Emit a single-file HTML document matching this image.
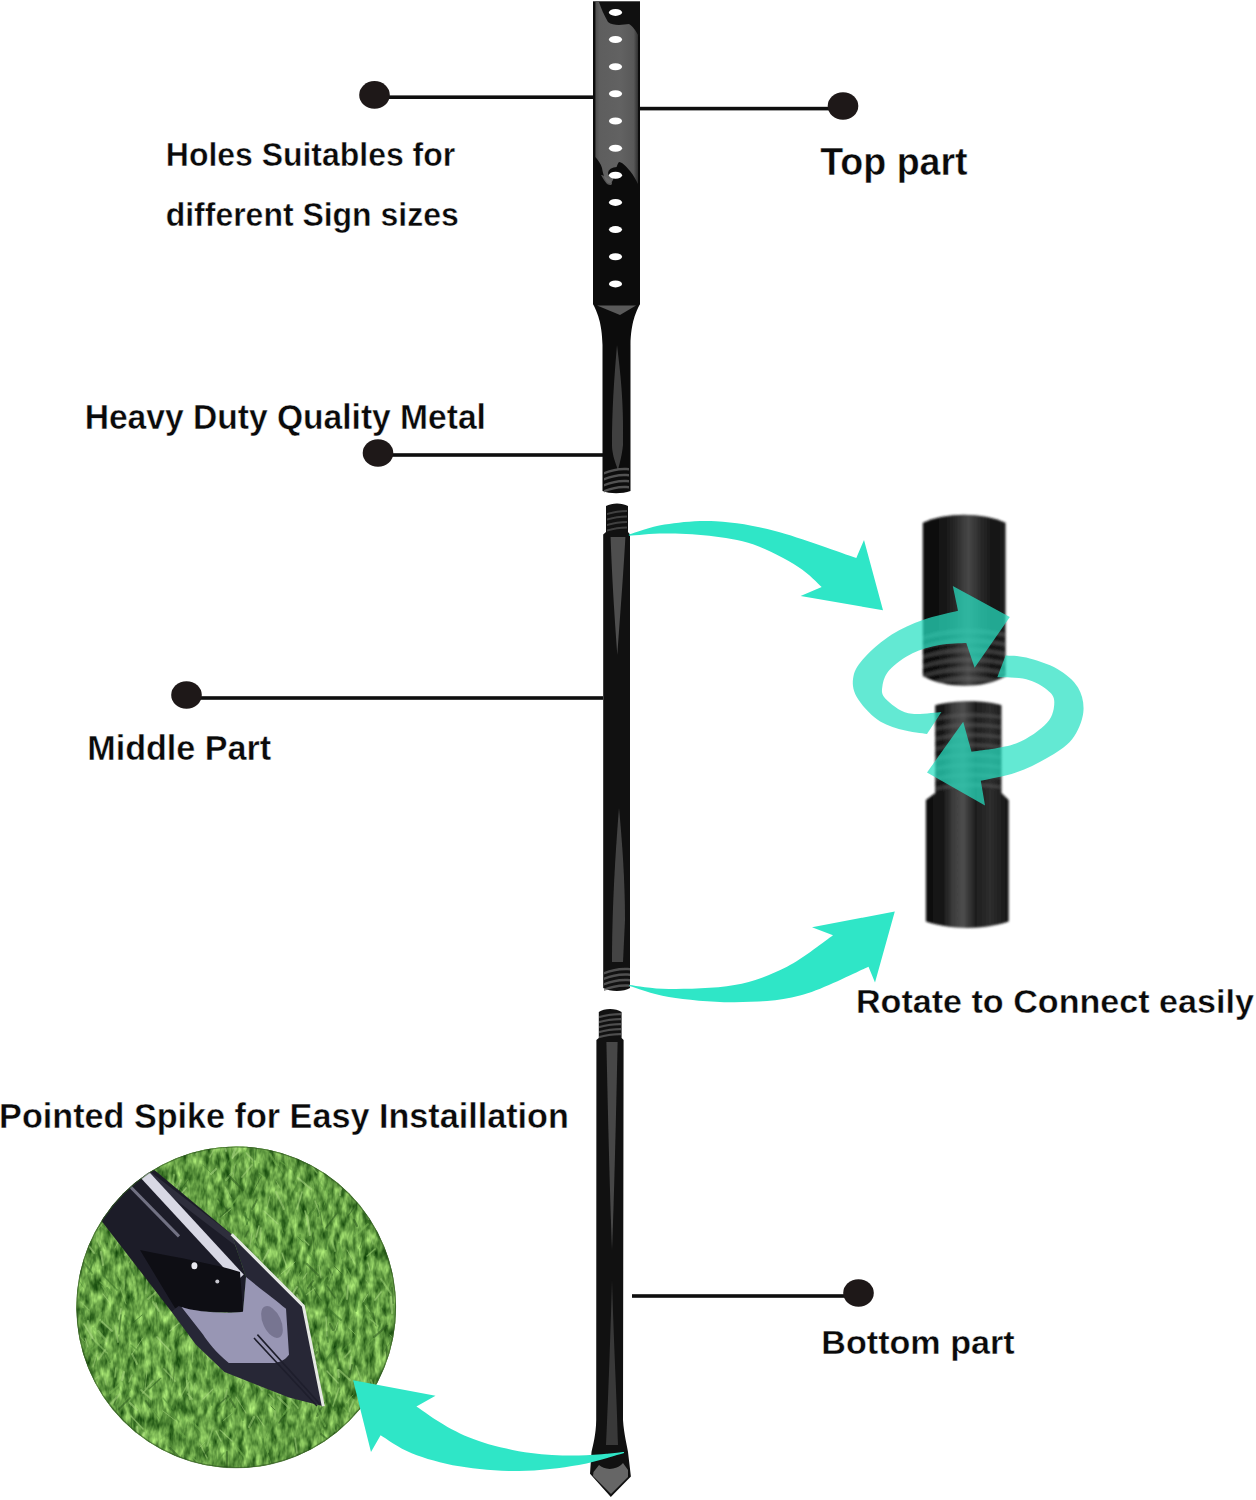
<!DOCTYPE html><html><head><meta charset="utf-8"><style>html,body{margin:0;padding:0;background:#fff;width:1256px;height:1500px;overflow:hidden}svg{display:block}</style></head><body><svg width="1256" height="1500" viewBox="0 0 1256 1500"><defs>
<linearGradient id="shaft" x1="0" x2="1" y1="0" y2="0">
<stop offset="0" stop-color="#0a0a0a"/><stop offset="0.35" stop-color="#141414"/>
<stop offset="0.55" stop-color="#3a3a3a"/><stop offset="0.7" stop-color="#1a1a1a"/><stop offset="1" stop-color="#050505"/>
</linearGradient>
<linearGradient id="plate" x1="0" x2="1">
<stop offset="0" stop-color="#4e4e4e"/><stop offset="0.1" stop-color="#5e5e5e"/><stop offset="0.6" stop-color="#626262"/><stop offset="0.9" stop-color="#585858"/><stop offset="1" stop-color="#303030"/>
</linearGradient>
<linearGradient id="cyl" x1="0" x2="1"><stop offset="0" stop-color="#0c0c0c"/><stop offset="0.25" stop-color="#131313"/><stop offset="0.4" stop-color="#2a2a2a"/><stop offset="0.55" stop-color="#484848"/><stop offset="0.7" stop-color="#2a2a2a"/><stop offset="0.85" stop-color="#141414"/><stop offset="1" stop-color="#1e1e1e"/></linearGradient>
<linearGradient id="cyl2" x1="0" x2="1"><stop offset="0" stop-color="#0e0e0e"/><stop offset="0.2" stop-color="#161616"/><stop offset="0.32" stop-color="#3a3a3a"/><stop offset="0.45" stop-color="#4e4e4e"/><stop offset="0.6" stop-color="#1e1e1e"/><stop offset="0.78" stop-color="#2e2e2e"/><stop offset="1" stop-color="#151515"/></linearGradient>
<filter id="blur05" x="-20%" y="-20%" width="140%" height="140%"><feGaussianBlur stdDeviation="0.6"/></filter>
<filter id="blur1" x="-10%" y="-10%" width="120%" height="120%"><feGaussianBlur stdDeviation="1.3"/></filter>
<filter id="grass" x="0" y="0" width="1" height="1" filterUnits="objectBoundingBox" color-interpolation-filters="sRGB"><feTurbulence type="fractalNoise" baseFrequency="0.16 0.065" numOctaves="3" seed="11"/><feColorMatrix type="matrix" values="0.85 0 0 0 -0.04  0.9 0 0 0 0.16  0.6 0 0 0 -0.04  0 0 0 0 1"/></filter>
<clipPath id="cc"><ellipse cx="236.2" cy="1307.3" rx="159.8" ry="160.8"/></clipPath>
</defs><rect width="1256" height="1500" fill="#fff"/><g font-family="Liberation Sans" font-weight="bold" fill="#0a0a0a"><text transform="translate(165.86,166.30) scale(0.31953,0.33870)" font-size="100" stroke="#fff" stroke-width="1.25">Holes Suitables for</text><text transform="translate(165.72,225.80) scale(0.31971,0.32931)" font-size="100" stroke="#fff" stroke-width="1.25">different Sign sizes</text><text transform="translate(820.22,174.50) scale(0.37558,0.39060)" font-size="100" stroke="#fff" stroke-width="1.07">Top part</text><text transform="translate(84.65,428.70) scale(0.33610,0.34955)" font-size="100" stroke="#fff" stroke-width="1.19">Heavy Duty Quality Metal</text><text transform="translate(87.21,760.30) scale(0.34151,0.35858)" font-size="100" stroke="#fff" stroke-width="1.17">Middle Part</text><text transform="translate(855.91,1013.10) scale(0.34119,0.34119)" font-size="100" stroke="#fff" stroke-width="1.17">Rotate to Connect easily</text><text transform="translate(-0.89,1128.10) scale(0.34180,0.35206)" font-size="100" stroke="#fff" stroke-width="1.17">Pointed Spike for Easy Instaillation</text><text transform="translate(821.31,1353.60) scale(0.34111,0.34111)" font-size="100" stroke="#fff" stroke-width="1.17">Bottom part</text></g><rect x="375" y="95.40" width="219" height="3.6" fill="#0e0e0e"/><ellipse cx="374.5" cy="94.9" rx="15.3" ry="13.8" fill="#1e1818"/><rect x="640" y="106.80" width="203" height="3.6" fill="#0e0e0e"/><ellipse cx="843" cy="106" rx="15.3" ry="13.8" fill="#1e1818"/><rect x="378" y="453.20" width="225" height="3.6" fill="#0e0e0e"/><ellipse cx="378" cy="453" rx="15.3" ry="13.8" fill="#1e1818"/><rect x="186" y="696.20" width="417" height="3.6" fill="#0e0e0e"/><ellipse cx="186.5" cy="695" rx="15.3" ry="13.8" fill="#1e1818"/><rect x="632" y="1294.20" width="226" height="3.6" fill="#0e0e0e"/><ellipse cx="858.5" cy="1293" rx="15.3" ry="13.8" fill="#1e1818"/><rect x="593" y="1.3" width="47" height="303" fill="#0c0c0c"/><path d="M595.4,2 L638,2 L638,184 C636,180 634,176 630,171 C626,166 622,162 619,162 C617,164 615,172 613,180 C611,184 609,184 607,182 C605,180 603,174 602,168 C601,164 598,160 595.4,157 Z" fill="url(#plate)"/><path d="M599,2 L640,2 L640,38 C637,33 634,27 629,24 C622,25 613,26 608,22 C604,15 601,8 599,2 Z" fill="#101010"/><path d="M601,175 C604,180 607,186 611,185 C613,184 612,181 609,179 C606,177 603,175 601,175 Z" fill="#6a6a6a" opacity="0.8"/><ellipse cx="617" cy="173" rx="9" ry="6" fill="#0c0c0c"/><ellipse cx="615.5" cy="12.4" rx="6.6" ry="3.5" fill="#fff"/><ellipse cx="615.5" cy="39.5" rx="6.6" ry="3.5" fill="#fff"/><ellipse cx="615.5" cy="66.7" rx="6.6" ry="3.5" fill="#fff"/><ellipse cx="615.5" cy="93.8" rx="6.6" ry="3.5" fill="#fff"/><ellipse cx="615.5" cy="121.0" rx="6.6" ry="3.5" fill="#fff"/><ellipse cx="615.5" cy="148.2" rx="6.6" ry="3.5" fill="#fff"/><ellipse cx="615.5" cy="175.3" rx="6.6" ry="3.5" fill="#fff"/><ellipse cx="615.5" cy="202.4" rx="6.6" ry="3.5" fill="#fff"/><ellipse cx="615.5" cy="229.6" rx="6.6" ry="3.5" fill="#fff"/><ellipse cx="615.5" cy="256.8" rx="6.6" ry="3.5" fill="#fff"/><ellipse cx="615.5" cy="283.9" rx="6.6" ry="3.5" fill="#fff"/><path d="M593,304 L640,304 C636,312 631,322 630.5,345 L630.5,491 C622,494 610,494 602.5,491 L602.5,345 C602,322 597,312 593,304 Z" fill="#0c0c0c"/><path d="M597,305.5 L636,305.5 L620,315 Z" fill="#5a5a5a"/><path d="M617,345 C620,370 624,400 623,445 C622,455 620,462 618,470 C614,460 612,452 612,445 C612,410 614,380 617,345 Z" fill="#4a4a4a" opacity="0.85"/><g filter="url(#blur05)"><path d="M604,472 C612,469 620,467 629,468 L629,470.6 C620,469.5 612,471.5 604,474.6 Z" fill="#6a6a6a" opacity="0.75"/><path d="M604,478 C612,475 620,473 629,474 L629,476.6 C620,475.5 612,477.5 604,480.6 Z" fill="#6a6a6a" opacity="0.75"/><path d="M604,484 C612,481 620,479 629,480 L629,482.6 C620,481.5 612,483.5 604,486.6 Z" fill="#6a6a6a" opacity="0.75"/><path d="M604,490 C612,487 620,485 629,486 L629,488.6 C620,487.5 612,489.5 604,492.6 Z" fill="#6a6a6a" opacity="0.75"/></g><path d="M606,506 C612,502.5 622,502.5 628,506 L628,532 L630,534.5 L630,988 C624,992 610,992 603.2,988 L603.2,534.5 L606,532 Z" fill="#111"/><path d="M610.6,537 L625.4,537 C623,580 619,630 617.4,655 C615.5,630 612,580 610.6,537 Z" fill="#4e4e4e"/><path d="M619,808 C622,840 625,880 625,920 L623,962 L612,962 C612,920 614,870 619,808 Z" fill="#4a4a4a" opacity="0.9"/><g filter="url(#blur05)"><path d="M607,513.0 C614,511.0 620,510.0 627,510.0 L627,512.0 C620,512.0 614,513.0 607,515.0 Z" fill="#555" opacity="0.7"/><path d="M607,518.5 C614,516.5 620,515.5 627,515.5 L627,517.5 C620,517.5 614,518.5 607,520.5 Z" fill="#555" opacity="0.7"/><path d="M607,524.0 C614,522.0 620,521.0 627,521.0 L627,523.0 C620,523.0 614,524.0 607,526.0 Z" fill="#555" opacity="0.7"/><path d="M607,529.5 C614,527.5 620,526.5 627,526.5 L627,528.5 C620,528.5 614,529.5 607,531.5 Z" fill="#555" opacity="0.7"/><path d="M604,972.0 C612,969.0 620,967.0 630,968.0 L630,970.4 C620,969.5 612,971.5 604,974.4 Z" fill="#666" opacity="0.75"/><path d="M604,977.5 C612,974.5 620,972.5 630,973.5 L630,975.9 C620,975.0 612,977.0 604,979.9 Z" fill="#666" opacity="0.75"/><path d="M604,983.0 C612,980.0 620,978.0 630,979.0 L630,981.4 C620,980.5 612,982.5 604,985.4 Z" fill="#666" opacity="0.75"/><path d="M604,988.5 C612,985.5 620,983.5 630,984.5 L630,986.9 C620,986.0 612,988.0 604,990.9 Z" fill="#666" opacity="0.75"/></g><path d="M598.8,1012 C604,1008 616,1008 621.6,1012 L621.6,1038 L623.6,1040 L623,1420 C624,1435 627,1445 628,1452 L630.9,1476.6 L610.8,1497 L590,1473.7 L591.5,1452 C593,1445 596,1435 596.2,1420 L596.4,1040 L598.8,1038 Z" fill="#111"/><path d="M606.4,1042 L617.6,1042 C616,1120 614,1200 612,1250 C610,1200 608,1120 606.4,1042 Z" fill="#474747"/><path d="M612,1280 C614,1350 617,1400 618,1445 L606,1445 C608,1400 610,1350 612,1280 Z" fill="#3e3e3e" opacity="0.9"/><path d="M593.5,1472 L599,1465 C604,1470 616,1471 623,1463 L628,1470 L628,1477 L611,1494 L593,1476 Z" fill="#666"/><g filter="url(#blur05)"><path d="M599,1016 C606,1014 614,1013 621,1013 L621,1015.2 C614,1015 606,1016 599,1018.2 Z" fill="#6a6a6a" opacity="0.7"/><path d="M599,1021 C606,1019 614,1018 621,1018 L621,1020.2 C614,1020 606,1021 599,1023.2 Z" fill="#6a6a6a" opacity="0.7"/><path d="M599,1026 C606,1024 614,1023 621,1023 L621,1025.2 C614,1025 606,1026 599,1028.2 Z" fill="#6a6a6a" opacity="0.7"/><path d="M599,1031 C606,1029 614,1028 621,1028 L621,1030.2 C614,1030 606,1031 599,1033.2 Z" fill="#6a6a6a" opacity="0.7"/><path d="M599,1036 C606,1034 614,1033 621,1033 L621,1035.2 C614,1035 606,1036 599,1038.2 Z" fill="#6a6a6a" opacity="0.7"/></g><g clip-path="url(#cc)"><rect x="70" y="1140" width="335" height="335" fill="#5f9c45"/><rect x="70" y="1140" width="335" height="335" filter="url(#grass)"/><line x1="178" y1="1191" x2="180" y2="1184" stroke="#9ccf74" stroke-width="1.3" stroke-linecap="round" opacity="0.55"/><line x1="89" y1="1310" x2="81" y2="1302" stroke="#9ccf74" stroke-width="1.1" stroke-linecap="round" opacity="0.55"/><line x1="255" y1="1160" x2="257" y2="1141" stroke="#3a7328" stroke-width="1.6" stroke-linecap="round" opacity="0.55"/><line x1="203" y1="1467" x2="190" y2="1455" stroke="#7cb856" stroke-width="1.4" stroke-linecap="round" opacity="0.55"/><line x1="251" y1="1331" x2="253" y2="1316" stroke="#9ccf74" stroke-width="1.6" stroke-linecap="round" opacity="0.55"/><line x1="284" y1="1265" x2="285" y2="1258" stroke="#3a7328" stroke-width="1.7" stroke-linecap="round" opacity="0.55"/><line x1="236" y1="1318" x2="242" y2="1307" stroke="#6aa848" stroke-width="1.3" stroke-linecap="round" opacity="0.55"/><line x1="153" y1="1200" x2="157" y2="1194" stroke="#7cb856" stroke-width="1.5" stroke-linecap="round" opacity="0.55"/><line x1="363" y1="1384" x2="356" y2="1366" stroke="#9ccf74" stroke-width="1.5" stroke-linecap="round" opacity="0.55"/><line x1="125" y1="1255" x2="134" y2="1246" stroke="#9ccf74" stroke-width="1.9" stroke-linecap="round" opacity="0.55"/><line x1="262" y1="1433" x2="257" y2="1418" stroke="#6aa848" stroke-width="1.6" stroke-linecap="round" opacity="0.55"/><line x1="223" y1="1421" x2="232" y2="1413" stroke="#9ccf74" stroke-width="0.9" stroke-linecap="round" opacity="0.55"/><line x1="305" y1="1357" x2="319" y2="1346" stroke="#7cb856" stroke-width="1.8" stroke-linecap="round" opacity="0.55"/><line x1="367" y1="1256" x2="375" y2="1249" stroke="#9ccf74" stroke-width="1.5" stroke-linecap="round" opacity="0.55"/><line x1="143" y1="1236" x2="148" y2="1226" stroke="#6aa848" stroke-width="0.9" stroke-linecap="round" opacity="0.55"/><line x1="220" y1="1324" x2="232" y2="1311" stroke="#7cb856" stroke-width="1.8" stroke-linecap="round" opacity="0.55"/><line x1="400" y1="1369" x2="398" y2="1360" stroke="#9ccf74" stroke-width="1.0" stroke-linecap="round" opacity="0.55"/><line x1="148" y1="1218" x2="147" y2="1204" stroke="#7cb856" stroke-width="1.2" stroke-linecap="round" opacity="0.55"/><line x1="119" y1="1319" x2="121" y2="1309" stroke="#b0dc88" stroke-width="1.8" stroke-linecap="round" opacity="0.55"/><line x1="243" y1="1347" x2="245" y2="1340" stroke="#a4d27c" stroke-width="1.4" stroke-linecap="round" opacity="0.55"/><line x1="202" y1="1301" x2="200" y2="1293" stroke="#4f8c35" stroke-width="1.4" stroke-linecap="round" opacity="0.55"/><line x1="107" y1="1341" x2="98" y2="1331" stroke="#9ccf74" stroke-width="2.1" stroke-linecap="round" opacity="0.55"/><line x1="276" y1="1164" x2="270" y2="1154" stroke="#7cb856" stroke-width="2.1" stroke-linecap="round" opacity="0.55"/><line x1="272" y1="1299" x2="264" y2="1289" stroke="#6aa848" stroke-width="1.5" stroke-linecap="round" opacity="0.55"/><line x1="174" y1="1188" x2="182" y2="1174" stroke="#6aa848" stroke-width="2.0" stroke-linecap="round" opacity="0.55"/><line x1="124" y1="1148" x2="134" y2="1139" stroke="#b0dc88" stroke-width="1.8" stroke-linecap="round" opacity="0.55"/><line x1="376" y1="1394" x2="371" y2="1380" stroke="#9ccf74" stroke-width="1.8" stroke-linecap="round" opacity="0.55"/><line x1="157" y1="1263" x2="148" y2="1249" stroke="#2c5a20" stroke-width="1.7" stroke-linecap="round" opacity="0.55"/><line x1="275" y1="1404" x2="279" y2="1396" stroke="#4f8c35" stroke-width="1.9" stroke-linecap="round" opacity="0.55"/><line x1="318" y1="1216" x2="318" y2="1205" stroke="#3a7328" stroke-width="2.2" stroke-linecap="round" opacity="0.55"/><line x1="335" y1="1298" x2="327" y2="1286" stroke="#2c5a20" stroke-width="1.4" stroke-linecap="round" opacity="0.55"/><line x1="384" y1="1471" x2="392" y2="1463" stroke="#4f8c35" stroke-width="0.9" stroke-linecap="round" opacity="0.55"/><line x1="227" y1="1253" x2="227" y2="1233" stroke="#3a7328" stroke-width="1.5" stroke-linecap="round" opacity="0.55"/><line x1="289" y1="1408" x2="278" y2="1397" stroke="#a4d27c" stroke-width="1.9" stroke-linecap="round" opacity="0.55"/><line x1="321" y1="1300" x2="312" y2="1286" stroke="#2c5a20" stroke-width="0.9" stroke-linecap="round" opacity="0.55"/><line x1="387" y1="1382" x2="386" y2="1365" stroke="#9ccf74" stroke-width="1.8" stroke-linecap="round" opacity="0.55"/><line x1="127" y1="1183" x2="116" y2="1167" stroke="#b0dc88" stroke-width="1.7" stroke-linecap="round" opacity="0.55"/><line x1="270" y1="1299" x2="275" y2="1293" stroke="#b0dc88" stroke-width="0.8" stroke-linecap="round" opacity="0.55"/><line x1="338" y1="1383" x2="327" y2="1371" stroke="#b0dc88" stroke-width="1.4" stroke-linecap="round" opacity="0.55"/><line x1="362" y1="1417" x2="357" y2="1408" stroke="#7cb856" stroke-width="1.5" stroke-linecap="round" opacity="0.55"/><line x1="326" y1="1249" x2="327" y2="1232" stroke="#3a7328" stroke-width="2.1" stroke-linecap="round" opacity="0.55"/><line x1="189" y1="1293" x2="191" y2="1275" stroke="#a4d27c" stroke-width="2.0" stroke-linecap="round" opacity="0.55"/><line x1="364" y1="1184" x2="356" y2="1173" stroke="#6aa848" stroke-width="1.9" stroke-linecap="round" opacity="0.55"/><line x1="274" y1="1400" x2="269" y2="1394" stroke="#9ccf74" stroke-width="1.6" stroke-linecap="round" opacity="0.55"/><line x1="179" y1="1314" x2="181" y2="1297" stroke="#9ccf74" stroke-width="2.0" stroke-linecap="round" opacity="0.55"/><line x1="89" y1="1204" x2="84" y2="1199" stroke="#6aa848" stroke-width="1.6" stroke-linecap="round" opacity="0.55"/><line x1="325" y1="1446" x2="323" y2="1431" stroke="#4f8c35" stroke-width="1.8" stroke-linecap="round" opacity="0.55"/><line x1="222" y1="1319" x2="221" y2="1299" stroke="#7cb856" stroke-width="2.1" stroke-linecap="round" opacity="0.55"/><line x1="369" y1="1208" x2="368" y2="1196" stroke="#a4d27c" stroke-width="1.4" stroke-linecap="round" opacity="0.55"/><line x1="94" y1="1221" x2="84" y2="1210" stroke="#9ccf74" stroke-width="2.1" stroke-linecap="round" opacity="0.55"/><line x1="122" y1="1380" x2="124" y2="1372" stroke="#b0dc88" stroke-width="2.2" stroke-linecap="round" opacity="0.55"/><line x1="144" y1="1459" x2="141" y2="1446" stroke="#4f8c35" stroke-width="1.0" stroke-linecap="round" opacity="0.55"/><line x1="215" y1="1313" x2="212" y2="1304" stroke="#2c5a20" stroke-width="0.9" stroke-linecap="round" opacity="0.55"/><line x1="193" y1="1253" x2="191" y2="1237" stroke="#a4d27c" stroke-width="1.3" stroke-linecap="round" opacity="0.55"/><line x1="279" y1="1312" x2="265" y2="1298" stroke="#4f8c35" stroke-width="2.2" stroke-linecap="round" opacity="0.55"/><line x1="105" y1="1229" x2="93" y2="1218" stroke="#7cb856" stroke-width="1.9" stroke-linecap="round" opacity="0.55"/><line x1="345" y1="1425" x2="351" y2="1406" stroke="#a4d27c" stroke-width="1.0" stroke-linecap="round" opacity="0.55"/><line x1="378" y1="1331" x2="380" y2="1324" stroke="#3a7328" stroke-width="1.9" stroke-linecap="round" opacity="0.55"/><line x1="131" y1="1440" x2="129" y2="1434" stroke="#9ccf74" stroke-width="1.9" stroke-linecap="round" opacity="0.55"/><line x1="98" y1="1427" x2="85" y2="1414" stroke="#6aa848" stroke-width="0.8" stroke-linecap="round" opacity="0.55"/><line x1="403" y1="1280" x2="413" y2="1269" stroke="#3a7328" stroke-width="1.5" stroke-linecap="round" opacity="0.55"/><line x1="150" y1="1177" x2="146" y2="1171" stroke="#4f8c35" stroke-width="2.1" stroke-linecap="round" opacity="0.55"/><line x1="281" y1="1318" x2="274" y2="1307" stroke="#b0dc88" stroke-width="1.2" stroke-linecap="round" opacity="0.55"/><line x1="339" y1="1473" x2="335" y2="1469" stroke="#4f8c35" stroke-width="1.5" stroke-linecap="round" opacity="0.55"/><line x1="152" y1="1290" x2="157" y2="1275" stroke="#6aa848" stroke-width="1.6" stroke-linecap="round" opacity="0.55"/><line x1="368" y1="1465" x2="365" y2="1457" stroke="#4f8c35" stroke-width="1.3" stroke-linecap="round" opacity="0.55"/><line x1="349" y1="1377" x2="352" y2="1365" stroke="#2c5a20" stroke-width="2.2" stroke-linecap="round" opacity="0.55"/><line x1="350" y1="1145" x2="354" y2="1127" stroke="#a4d27c" stroke-width="1.0" stroke-linecap="round" opacity="0.55"/><line x1="98" y1="1422" x2="108" y2="1410" stroke="#7cb856" stroke-width="1.6" stroke-linecap="round" opacity="0.55"/><line x1="302" y1="1155" x2="297" y2="1147" stroke="#3a7328" stroke-width="1.2" stroke-linecap="round" opacity="0.55"/><line x1="392" y1="1466" x2="393" y2="1456" stroke="#7cb856" stroke-width="1.1" stroke-linecap="round" opacity="0.55"/><line x1="131" y1="1252" x2="125" y2="1245" stroke="#4f8c35" stroke-width="1.1" stroke-linecap="round" opacity="0.55"/><line x1="330" y1="1170" x2="334" y2="1164" stroke="#3a7328" stroke-width="1.4" stroke-linecap="round" opacity="0.55"/><line x1="170" y1="1351" x2="157" y2="1337" stroke="#b0dc88" stroke-width="1.7" stroke-linecap="round" opacity="0.55"/><line x1="310" y1="1434" x2="308" y2="1424" stroke="#6aa848" stroke-width="1.0" stroke-linecap="round" opacity="0.55"/><line x1="313" y1="1355" x2="300" y2="1343" stroke="#a4d27c" stroke-width="1.8" stroke-linecap="round" opacity="0.55"/><line x1="342" y1="1187" x2="343" y2="1174" stroke="#3a7328" stroke-width="2.0" stroke-linecap="round" opacity="0.55"/><line x1="266" y1="1439" x2="271" y2="1424" stroke="#4f8c35" stroke-width="0.9" stroke-linecap="round" opacity="0.55"/><line x1="84" y1="1353" x2="92" y2="1346" stroke="#6aa848" stroke-width="1.6" stroke-linecap="round" opacity="0.55"/><line x1="280" y1="1350" x2="284" y2="1338" stroke="#3a7328" stroke-width="1.4" stroke-linecap="round" opacity="0.55"/><line x1="93" y1="1452" x2="98" y2="1447" stroke="#9ccf74" stroke-width="1.8" stroke-linecap="round" opacity="0.55"/><line x1="229" y1="1411" x2="234" y2="1404" stroke="#4f8c35" stroke-width="1.1" stroke-linecap="round" opacity="0.55"/><line x1="288" y1="1294" x2="292" y2="1288" stroke="#7cb856" stroke-width="1.9" stroke-linecap="round" opacity="0.55"/><line x1="277" y1="1355" x2="271" y2="1349" stroke="#7cb856" stroke-width="1.7" stroke-linecap="round" opacity="0.55"/><line x1="302" y1="1348" x2="294" y2="1338" stroke="#6aa848" stroke-width="1.2" stroke-linecap="round" opacity="0.55"/><line x1="295" y1="1372" x2="298" y2="1362" stroke="#7cb856" stroke-width="1.5" stroke-linecap="round" opacity="0.55"/><line x1="226" y1="1180" x2="232" y2="1173" stroke="#9ccf74" stroke-width="2.1" stroke-linecap="round" opacity="0.55"/><line x1="76" y1="1294" x2="87" y2="1277" stroke="#6aa848" stroke-width="2.2" stroke-linecap="round" opacity="0.55"/><line x1="200" y1="1447" x2="205" y2="1442" stroke="#9ccf74" stroke-width="1.0" stroke-linecap="round" opacity="0.55"/><line x1="246" y1="1459" x2="235" y2="1445" stroke="#7cb856" stroke-width="2.0" stroke-linecap="round" opacity="0.55"/><line x1="306" y1="1218" x2="314" y2="1208" stroke="#3a7328" stroke-width="1.0" stroke-linecap="round" opacity="0.55"/><line x1="388" y1="1368" x2="385" y2="1352" stroke="#a4d27c" stroke-width="1.3" stroke-linecap="round" opacity="0.55"/><line x1="176" y1="1421" x2="163" y2="1411" stroke="#a4d27c" stroke-width="1.0" stroke-linecap="round" opacity="0.55"/><line x1="380" y1="1379" x2="387" y2="1371" stroke="#2c5a20" stroke-width="0.9" stroke-linecap="round" opacity="0.55"/><line x1="201" y1="1431" x2="188" y2="1418" stroke="#7cb856" stroke-width="2.0" stroke-linecap="round" opacity="0.55"/><line x1="164" y1="1157" x2="168" y2="1143" stroke="#b0dc88" stroke-width="1.1" stroke-linecap="round" opacity="0.55"/><line x1="159" y1="1311" x2="153" y2="1302" stroke="#a4d27c" stroke-width="2.0" stroke-linecap="round" opacity="0.55"/><line x1="342" y1="1351" x2="355" y2="1337" stroke="#4f8c35" stroke-width="1.8" stroke-linecap="round" opacity="0.55"/><line x1="87" y1="1385" x2="85" y2="1369" stroke="#7cb856" stroke-width="1.5" stroke-linecap="round" opacity="0.55"/><line x1="375" y1="1324" x2="369" y2="1314" stroke="#7cb856" stroke-width="1.2" stroke-linecap="round" opacity="0.55"/><line x1="318" y1="1467" x2="311" y2="1453" stroke="#7cb856" stroke-width="1.5" stroke-linecap="round" opacity="0.55"/><line x1="294" y1="1180" x2="296" y2="1173" stroke="#6aa848" stroke-width="1.6" stroke-linecap="round" opacity="0.55"/><line x1="222" y1="1251" x2="227" y2="1241" stroke="#4f8c35" stroke-width="1.1" stroke-linecap="round" opacity="0.55"/><line x1="129" y1="1326" x2="125" y2="1316" stroke="#4f8c35" stroke-width="2.0" stroke-linecap="round" opacity="0.55"/><line x1="321" y1="1278" x2="319" y2="1265" stroke="#a4d27c" stroke-width="1.2" stroke-linecap="round" opacity="0.55"/><line x1="322" y1="1307" x2="323" y2="1296" stroke="#4f8c35" stroke-width="0.9" stroke-linecap="round" opacity="0.55"/><line x1="370" y1="1269" x2="374" y2="1257" stroke="#7cb856" stroke-width="2.0" stroke-linecap="round" opacity="0.55"/><line x1="362" y1="1147" x2="351" y2="1137" stroke="#6aa848" stroke-width="2.2" stroke-linecap="round" opacity="0.55"/><line x1="234" y1="1165" x2="247" y2="1151" stroke="#6aa848" stroke-width="2.2" stroke-linecap="round" opacity="0.55"/><line x1="153" y1="1177" x2="145" y2="1166" stroke="#9ccf74" stroke-width="2.1" stroke-linecap="round" opacity="0.55"/><line x1="312" y1="1357" x2="317" y2="1346" stroke="#3a7328" stroke-width="0.8" stroke-linecap="round" opacity="0.55"/><line x1="112" y1="1331" x2="100" y2="1320" stroke="#b0dc88" stroke-width="1.7" stroke-linecap="round" opacity="0.55"/><line x1="247" y1="1287" x2="250" y2="1280" stroke="#7cb856" stroke-width="1.5" stroke-linecap="round" opacity="0.55"/><line x1="265" y1="1270" x2="258" y2="1257" stroke="#3a7328" stroke-width="1.6" stroke-linecap="round" opacity="0.55"/><line x1="404" y1="1233" x2="398" y2="1217" stroke="#4f8c35" stroke-width="1.5" stroke-linecap="round" opacity="0.55"/><line x1="149" y1="1223" x2="160" y2="1212" stroke="#7cb856" stroke-width="0.9" stroke-linecap="round" opacity="0.55"/><line x1="135" y1="1436" x2="137" y2="1430" stroke="#4f8c35" stroke-width="1.7" stroke-linecap="round" opacity="0.55"/><line x1="380" y1="1216" x2="372" y2="1209" stroke="#a4d27c" stroke-width="1.3" stroke-linecap="round" opacity="0.55"/><line x1="203" y1="1142" x2="196" y2="1126" stroke="#9ccf74" stroke-width="1.1" stroke-linecap="round" opacity="0.55"/><line x1="395" y1="1244" x2="400" y2="1237" stroke="#4f8c35" stroke-width="1.2" stroke-linecap="round" opacity="0.55"/><line x1="368" y1="1177" x2="371" y2="1162" stroke="#4f8c35" stroke-width="1.5" stroke-linecap="round" opacity="0.55"/><line x1="375" y1="1159" x2="378" y2="1140" stroke="#3a7328" stroke-width="1.1" stroke-linecap="round" opacity="0.55"/><line x1="396" y1="1188" x2="391" y2="1183" stroke="#a4d27c" stroke-width="1.4" stroke-linecap="round" opacity="0.55"/><line x1="309" y1="1245" x2="304" y2="1240" stroke="#b0dc88" stroke-width="1.3" stroke-linecap="round" opacity="0.55"/><line x1="132" y1="1454" x2="135" y2="1448" stroke="#a4d27c" stroke-width="2.0" stroke-linecap="round" opacity="0.55"/><line x1="400" y1="1288" x2="395" y2="1283" stroke="#9ccf74" stroke-width="1.3" stroke-linecap="round" opacity="0.55"/><line x1="390" y1="1181" x2="397" y2="1175" stroke="#2c5a20" stroke-width="1.9" stroke-linecap="round" opacity="0.55"/><line x1="173" y1="1409" x2="163" y2="1398" stroke="#4f8c35" stroke-width="1.3" stroke-linecap="round" opacity="0.55"/><line x1="378" y1="1205" x2="374" y2="1187" stroke="#3a7328" stroke-width="1.7" stroke-linecap="round" opacity="0.55"/><line x1="153" y1="1350" x2="151" y2="1338" stroke="#6aa848" stroke-width="0.9" stroke-linecap="round" opacity="0.55"/><line x1="378" y1="1226" x2="386" y2="1209" stroke="#2c5a20" stroke-width="1.3" stroke-linecap="round" opacity="0.55"/><line x1="182" y1="1460" x2="170" y2="1448" stroke="#2c5a20" stroke-width="2.1" stroke-linecap="round" opacity="0.55"/><line x1="170" y1="1382" x2="173" y2="1365" stroke="#9ccf74" stroke-width="0.8" stroke-linecap="round" opacity="0.55"/><line x1="148" y1="1299" x2="163" y2="1286" stroke="#a4d27c" stroke-width="1.9" stroke-linecap="round" opacity="0.55"/><line x1="376" y1="1413" x2="368" y2="1403" stroke="#3a7328" stroke-width="1.9" stroke-linecap="round" opacity="0.55"/><line x1="317" y1="1416" x2="324" y2="1403" stroke="#2c5a20" stroke-width="2.0" stroke-linecap="round" opacity="0.55"/><line x1="224" y1="1403" x2="227" y2="1390" stroke="#a4d27c" stroke-width="1.9" stroke-linecap="round" opacity="0.55"/><line x1="153" y1="1162" x2="143" y2="1153" stroke="#2c5a20" stroke-width="1.0" stroke-linecap="round" opacity="0.55"/><line x1="213" y1="1175" x2="203" y2="1165" stroke="#4f8c35" stroke-width="0.9" stroke-linecap="round" opacity="0.55"/><line x1="237" y1="1378" x2="236" y2="1369" stroke="#a4d27c" stroke-width="1.4" stroke-linecap="round" opacity="0.55"/><line x1="369" y1="1219" x2="370" y2="1202" stroke="#9ccf74" stroke-width="1.9" stroke-linecap="round" opacity="0.55"/><line x1="168" y1="1234" x2="165" y2="1225" stroke="#7cb856" stroke-width="1.1" stroke-linecap="round" opacity="0.55"/><line x1="153" y1="1222" x2="142" y2="1207" stroke="#4f8c35" stroke-width="1.3" stroke-linecap="round" opacity="0.55"/><line x1="203" y1="1472" x2="203" y2="1463" stroke="#9ccf74" stroke-width="1.7" stroke-linecap="round" opacity="0.55"/><line x1="402" y1="1174" x2="401" y2="1157" stroke="#6aa848" stroke-width="2.1" stroke-linecap="round" opacity="0.55"/><line x1="84" y1="1238" x2="78" y2="1232" stroke="#4f8c35" stroke-width="2.1" stroke-linecap="round" opacity="0.55"/><line x1="195" y1="1430" x2="194" y2="1421" stroke="#3a7328" stroke-width="0.9" stroke-linecap="round" opacity="0.55"/><line x1="270" y1="1348" x2="264" y2="1338" stroke="#b0dc88" stroke-width="0.9" stroke-linecap="round" opacity="0.55"/><line x1="405" y1="1153" x2="413" y2="1136" stroke="#3a7328" stroke-width="1.9" stroke-linecap="round" opacity="0.55"/><line x1="207" y1="1265" x2="209" y2="1258" stroke="#3a7328" stroke-width="1.9" stroke-linecap="round" opacity="0.55"/><line x1="254" y1="1161" x2="246" y2="1153" stroke="#b0dc88" stroke-width="1.7" stroke-linecap="round" opacity="0.55"/><line x1="101" y1="1195" x2="105" y2="1184" stroke="#7cb856" stroke-width="1.7" stroke-linecap="round" opacity="0.55"/><line x1="210" y1="1157" x2="218" y2="1141" stroke="#a4d27c" stroke-width="1.4" stroke-linecap="round" opacity="0.55"/><line x1="360" y1="1474" x2="357" y2="1465" stroke="#a4d27c" stroke-width="1.1" stroke-linecap="round" opacity="0.55"/><line x1="72" y1="1442" x2="70" y2="1425" stroke="#a4d27c" stroke-width="1.6" stroke-linecap="round" opacity="0.55"/><line x1="192" y1="1399" x2="188" y2="1394" stroke="#b0dc88" stroke-width="1.7" stroke-linecap="round" opacity="0.55"/><line x1="375" y1="1170" x2="377" y2="1159" stroke="#b0dc88" stroke-width="1.0" stroke-linecap="round" opacity="0.55"/><line x1="165" y1="1315" x2="170" y2="1309" stroke="#6aa848" stroke-width="1.9" stroke-linecap="round" opacity="0.55"/><line x1="335" y1="1410" x2="329" y2="1393" stroke="#3a7328" stroke-width="2.2" stroke-linecap="round" opacity="0.55"/><line x1="232" y1="1158" x2="240" y2="1150" stroke="#b0dc88" stroke-width="1.7" stroke-linecap="round" opacity="0.55"/><line x1="357" y1="1348" x2="359" y2="1339" stroke="#6aa848" stroke-width="1.1" stroke-linecap="round" opacity="0.55"/><line x1="143" y1="1274" x2="143" y2="1263" stroke="#9ccf74" stroke-width="1.0" stroke-linecap="round" opacity="0.55"/><line x1="395" y1="1413" x2="386" y2="1398" stroke="#3a7328" stroke-width="1.7" stroke-linecap="round" opacity="0.55"/><line x1="179" y1="1271" x2="177" y2="1253" stroke="#7cb856" stroke-width="1.7" stroke-linecap="round" opacity="0.55"/><line x1="173" y1="1224" x2="171" y2="1213" stroke="#6aa848" stroke-width="1.1" stroke-linecap="round" opacity="0.55"/><line x1="71" y1="1470" x2="70" y2="1458" stroke="#6aa848" stroke-width="2.0" stroke-linecap="round" opacity="0.55"/><line x1="342" y1="1274" x2="334" y2="1266" stroke="#2c5a20" stroke-width="0.9" stroke-linecap="round" opacity="0.55"/><line x1="218" y1="1311" x2="207" y2="1301" stroke="#9ccf74" stroke-width="2.1" stroke-linecap="round" opacity="0.55"/><line x1="175" y1="1381" x2="164" y2="1369" stroke="#a4d27c" stroke-width="1.7" stroke-linecap="round" opacity="0.55"/><line x1="333" y1="1149" x2="322" y2="1138" stroke="#9ccf74" stroke-width="1.1" stroke-linecap="round" opacity="0.55"/><line x1="399" y1="1305" x2="413" y2="1292" stroke="#b0dc88" stroke-width="1.8" stroke-linecap="round" opacity="0.55"/><line x1="312" y1="1214" x2="320" y2="1202" stroke="#7cb856" stroke-width="1.0" stroke-linecap="round" opacity="0.55"/><line x1="370" y1="1232" x2="375" y2="1225" stroke="#6aa848" stroke-width="1.1" stroke-linecap="round" opacity="0.55"/><line x1="158" y1="1310" x2="156" y2="1303" stroke="#b0dc88" stroke-width="1.4" stroke-linecap="round" opacity="0.55"/><line x1="283" y1="1233" x2="280" y2="1222" stroke="#7cb856" stroke-width="1.0" stroke-linecap="round" opacity="0.55"/><line x1="248" y1="1353" x2="243" y2="1336" stroke="#9ccf74" stroke-width="1.2" stroke-linecap="round" opacity="0.55"/><line x1="249" y1="1427" x2="254" y2="1417" stroke="#a4d27c" stroke-width="2.2" stroke-linecap="round" opacity="0.55"/><line x1="263" y1="1261" x2="269" y2="1250" stroke="#b0dc88" stroke-width="1.7" stroke-linecap="round" opacity="0.55"/><line x1="391" y1="1239" x2="391" y2="1229" stroke="#2c5a20" stroke-width="1.8" stroke-linecap="round" opacity="0.55"/><line x1="320" y1="1214" x2="315" y2="1201" stroke="#a4d27c" stroke-width="1.5" stroke-linecap="round" opacity="0.55"/><line x1="370" y1="1184" x2="363" y2="1171" stroke="#3a7328" stroke-width="0.9" stroke-linecap="round" opacity="0.55"/><line x1="260" y1="1242" x2="261" y2="1228" stroke="#a4d27c" stroke-width="1.6" stroke-linecap="round" opacity="0.55"/><line x1="267" y1="1208" x2="270" y2="1196" stroke="#b0dc88" stroke-width="0.8" stroke-linecap="round" opacity="0.55"/><line x1="339" y1="1377" x2="338" y2="1370" stroke="#b0dc88" stroke-width="2.0" stroke-linecap="round" opacity="0.55"/><line x1="332" y1="1275" x2="329" y2="1269" stroke="#2c5a20" stroke-width="1.6" stroke-linecap="round" opacity="0.55"/><line x1="264" y1="1342" x2="264" y2="1329" stroke="#b0dc88" stroke-width="2.1" stroke-linecap="round" opacity="0.55"/><line x1="85" y1="1318" x2="83" y2="1309" stroke="#3a7328" stroke-width="2.1" stroke-linecap="round" opacity="0.55"/><line x1="105" y1="1345" x2="108" y2="1337" stroke="#a4d27c" stroke-width="1.1" stroke-linecap="round" opacity="0.55"/><line x1="274" y1="1310" x2="278" y2="1293" stroke="#b0dc88" stroke-width="1.5" stroke-linecap="round" opacity="0.55"/><line x1="91" y1="1350" x2="104" y2="1340" stroke="#6aa848" stroke-width="1.8" stroke-linecap="round" opacity="0.55"/><line x1="72" y1="1423" x2="77" y2="1412" stroke="#6aa848" stroke-width="1.0" stroke-linecap="round" opacity="0.55"/><line x1="404" y1="1228" x2="406" y2="1220" stroke="#7cb856" stroke-width="1.8" stroke-linecap="round" opacity="0.55"/><line x1="159" y1="1326" x2="157" y2="1309" stroke="#7cb856" stroke-width="1.2" stroke-linecap="round" opacity="0.55"/><line x1="381" y1="1440" x2="372" y2="1430" stroke="#b0dc88" stroke-width="1.2" stroke-linecap="round" opacity="0.55"/><line x1="149" y1="1389" x2="161" y2="1378" stroke="#2c5a20" stroke-width="1.1" stroke-linecap="round" opacity="0.55"/><line x1="200" y1="1341" x2="196" y2="1324" stroke="#6aa848" stroke-width="1.5" stroke-linecap="round" opacity="0.55"/><line x1="248" y1="1142" x2="233" y2="1129" stroke="#4f8c35" stroke-width="1.6" stroke-linecap="round" opacity="0.55"/><line x1="173" y1="1211" x2="175" y2="1204" stroke="#b0dc88" stroke-width="1.0" stroke-linecap="round" opacity="0.55"/><line x1="79" y1="1176" x2="87" y2="1168" stroke="#b0dc88" stroke-width="1.8" stroke-linecap="round" opacity="0.55"/><line x1="80" y1="1186" x2="82" y2="1180" stroke="#9ccf74" stroke-width="1.8" stroke-linecap="round" opacity="0.55"/><line x1="92" y1="1338" x2="88" y2="1321" stroke="#9ccf74" stroke-width="2.0" stroke-linecap="round" opacity="0.55"/><line x1="323" y1="1378" x2="321" y2="1369" stroke="#4f8c35" stroke-width="1.0" stroke-linecap="round" opacity="0.55"/><line x1="82" y1="1424" x2="89" y2="1411" stroke="#7cb856" stroke-width="1.5" stroke-linecap="round" opacity="0.55"/><line x1="114" y1="1405" x2="117" y2="1396" stroke="#2c5a20" stroke-width="1.4" stroke-linecap="round" opacity="0.55"/><line x1="77" y1="1226" x2="71" y2="1211" stroke="#2c5a20" stroke-width="2.1" stroke-linecap="round" opacity="0.55"/><line x1="328" y1="1342" x2="327" y2="1332" stroke="#3a7328" stroke-width="1.9" stroke-linecap="round" opacity="0.55"/><line x1="80" y1="1314" x2="72" y2="1304" stroke="#3a7328" stroke-width="1.6" stroke-linecap="round" opacity="0.55"/><line x1="143" y1="1429" x2="131" y2="1416" stroke="#b0dc88" stroke-width="1.4" stroke-linecap="round" opacity="0.55"/><line x1="245" y1="1237" x2="248" y2="1231" stroke="#2c5a20" stroke-width="1.5" stroke-linecap="round" opacity="0.55"/><line x1="235" y1="1407" x2="228" y2="1396" stroke="#2c5a20" stroke-width="2.1" stroke-linecap="round" opacity="0.55"/><line x1="243" y1="1334" x2="233" y2="1319" stroke="#4f8c35" stroke-width="1.5" stroke-linecap="round" opacity="0.55"/><line x1="107" y1="1353" x2="95" y2="1341" stroke="#9ccf74" stroke-width="1.7" stroke-linecap="round" opacity="0.55"/><line x1="189" y1="1274" x2="186" y2="1256" stroke="#9ccf74" stroke-width="1.4" stroke-linecap="round" opacity="0.55"/><line x1="286" y1="1265" x2="282" y2="1253" stroke="#b0dc88" stroke-width="1.3" stroke-linecap="round" opacity="0.55"/><line x1="366" y1="1218" x2="365" y2="1205" stroke="#3a7328" stroke-width="1.3" stroke-linecap="round" opacity="0.55"/><line x1="179" y1="1192" x2="188" y2="1180" stroke="#2c5a20" stroke-width="1.0" stroke-linecap="round" opacity="0.55"/><line x1="217" y1="1399" x2="218" y2="1391" stroke="#6aa848" stroke-width="1.7" stroke-linecap="round" opacity="0.55"/><line x1="303" y1="1310" x2="297" y2="1295" stroke="#b0dc88" stroke-width="1.8" stroke-linecap="round" opacity="0.55"/><line x1="397" y1="1382" x2="399" y2="1372" stroke="#4f8c35" stroke-width="1.3" stroke-linecap="round" opacity="0.55"/><line x1="133" y1="1467" x2="136" y2="1460" stroke="#9ccf74" stroke-width="1.1" stroke-linecap="round" opacity="0.55"/><line x1="121" y1="1190" x2="117" y2="1180" stroke="#7cb856" stroke-width="1.1" stroke-linecap="round" opacity="0.55"/><line x1="284" y1="1176" x2="278" y2="1166" stroke="#3a7328" stroke-width="0.8" stroke-linecap="round" opacity="0.55"/><line x1="356" y1="1286" x2="347" y2="1269" stroke="#7cb856" stroke-width="1.4" stroke-linecap="round" opacity="0.55"/><line x1="118" y1="1342" x2="115" y2="1326" stroke="#a4d27c" stroke-width="1.8" stroke-linecap="round" opacity="0.55"/><line x1="267" y1="1357" x2="276" y2="1344" stroke="#4f8c35" stroke-width="1.8" stroke-linecap="round" opacity="0.55"/><line x1="285" y1="1292" x2="280" y2="1278" stroke="#9ccf74" stroke-width="2.1" stroke-linecap="round" opacity="0.55"/><line x1="151" y1="1274" x2="154" y2="1266" stroke="#a4d27c" stroke-width="1.5" stroke-linecap="round" opacity="0.55"/><line x1="77" y1="1428" x2="77" y2="1412" stroke="#b0dc88" stroke-width="2.1" stroke-linecap="round" opacity="0.55"/><line x1="180" y1="1144" x2="190" y2="1128" stroke="#9ccf74" stroke-width="0.9" stroke-linecap="round" opacity="0.55"/><line x1="252" y1="1194" x2="261" y2="1177" stroke="#2c5a20" stroke-width="0.9" stroke-linecap="round" opacity="0.55"/><line x1="262" y1="1321" x2="267" y2="1309" stroke="#2c5a20" stroke-width="1.5" stroke-linecap="round" opacity="0.55"/><line x1="207" y1="1458" x2="200" y2="1444" stroke="#a4d27c" stroke-width="1.5" stroke-linecap="round" opacity="0.55"/><line x1="382" y1="1384" x2="385" y2="1370" stroke="#7cb856" stroke-width="1.2" stroke-linecap="round" opacity="0.55"/><line x1="204" y1="1144" x2="202" y2="1133" stroke="#2c5a20" stroke-width="1.6" stroke-linecap="round" opacity="0.55"/><line x1="107" y1="1242" x2="103" y2="1223" stroke="#4f8c35" stroke-width="2.2" stroke-linecap="round" opacity="0.55"/><line x1="392" y1="1295" x2="381" y2="1279" stroke="#9ccf74" stroke-width="1.9" stroke-linecap="round" opacity="0.55"/><line x1="282" y1="1297" x2="284" y2="1288" stroke="#b0dc88" stroke-width="1.3" stroke-linecap="round" opacity="0.55"/><line x1="284" y1="1414" x2="291" y2="1404" stroke="#7cb856" stroke-width="1.9" stroke-linecap="round" opacity="0.55"/><line x1="288" y1="1401" x2="287" y2="1384" stroke="#4f8c35" stroke-width="1.2" stroke-linecap="round" opacity="0.55"/><line x1="196" y1="1225" x2="195" y2="1216" stroke="#3a7328" stroke-width="1.9" stroke-linecap="round" opacity="0.55"/><line x1="338" y1="1260" x2="341" y2="1250" stroke="#6aa848" stroke-width="1.4" stroke-linecap="round" opacity="0.55"/><line x1="283" y1="1361" x2="279" y2="1342" stroke="#a4d27c" stroke-width="0.9" stroke-linecap="round" opacity="0.55"/><line x1="347" y1="1443" x2="351" y2="1436" stroke="#2c5a20" stroke-width="1.7" stroke-linecap="round" opacity="0.55"/><line x1="75" y1="1144" x2="86" y2="1133" stroke="#7cb856" stroke-width="1.7" stroke-linecap="round" opacity="0.55"/><line x1="264" y1="1426" x2="257" y2="1416" stroke="#b0dc88" stroke-width="1.1" stroke-linecap="round" opacity="0.55"/><line x1="205" y1="1319" x2="208" y2="1304" stroke="#9ccf74" stroke-width="1.7" stroke-linecap="round" opacity="0.55"/><line x1="369" y1="1404" x2="374" y2="1397" stroke="#4f8c35" stroke-width="1.5" stroke-linecap="round" opacity="0.55"/><line x1="319" y1="1287" x2="327" y2="1276" stroke="#7cb856" stroke-width="1.4" stroke-linecap="round" opacity="0.55"/><line x1="347" y1="1299" x2="348" y2="1286" stroke="#b0dc88" stroke-width="1.8" stroke-linecap="round" opacity="0.55"/><line x1="153" y1="1195" x2="156" y2="1179" stroke="#b0dc88" stroke-width="2.0" stroke-linecap="round" opacity="0.55"/><line x1="227" y1="1328" x2="232" y2="1311" stroke="#2c5a20" stroke-width="1.4" stroke-linecap="round" opacity="0.55"/><line x1="405" y1="1366" x2="399" y2="1357" stroke="#3a7328" stroke-width="0.8" stroke-linecap="round" opacity="0.55"/><line x1="85" y1="1387" x2="99" y2="1376" stroke="#9ccf74" stroke-width="1.5" stroke-linecap="round" opacity="0.55"/><line x1="232" y1="1441" x2="220" y2="1430" stroke="#b0dc88" stroke-width="1.3" stroke-linecap="round" opacity="0.55"/><line x1="359" y1="1263" x2="358" y2="1249" stroke="#4f8c35" stroke-width="1.2" stroke-linecap="round" opacity="0.55"/><line x1="185" y1="1224" x2="177" y2="1217" stroke="#2c5a20" stroke-width="2.0" stroke-linecap="round" opacity="0.55"/><line x1="205" y1="1309" x2="200" y2="1297" stroke="#4f8c35" stroke-width="1.7" stroke-linecap="round" opacity="0.55"/><line x1="335" y1="1251" x2="332" y2="1241" stroke="#9ccf74" stroke-width="1.9" stroke-linecap="round" opacity="0.55"/><line x1="83" y1="1382" x2="92" y2="1372" stroke="#3a7328" stroke-width="1.4" stroke-linecap="round" opacity="0.55"/><line x1="106" y1="1156" x2="113" y2="1145" stroke="#3a7328" stroke-width="1.9" stroke-linecap="round" opacity="0.55"/><line x1="375" y1="1345" x2="378" y2="1330" stroke="#9ccf74" stroke-width="1.1" stroke-linecap="round" opacity="0.55"/><line x1="293" y1="1293" x2="297" y2="1287" stroke="#b0dc88" stroke-width="2.0" stroke-linecap="round" opacity="0.55"/><line x1="211" y1="1174" x2="216" y2="1169" stroke="#b0dc88" stroke-width="1.9" stroke-linecap="round" opacity="0.55"/><line x1="258" y1="1226" x2="254" y2="1215" stroke="#2c5a20" stroke-width="0.8" stroke-linecap="round" opacity="0.55"/><line x1="260" y1="1334" x2="269" y2="1324" stroke="#3a7328" stroke-width="2.0" stroke-linecap="round" opacity="0.55"/><line x1="329" y1="1281" x2="333" y2="1270" stroke="#9ccf74" stroke-width="0.8" stroke-linecap="round" opacity="0.55"/><line x1="200" y1="1338" x2="214" y2="1324" stroke="#6aa848" stroke-width="1.9" stroke-linecap="round" opacity="0.55"/><line x1="254" y1="1168" x2="253" y2="1149" stroke="#3a7328" stroke-width="1.4" stroke-linecap="round" opacity="0.55"/><line x1="73" y1="1364" x2="87" y2="1353" stroke="#4f8c35" stroke-width="2.0" stroke-linecap="round" opacity="0.55"/><line x1="113" y1="1146" x2="117" y2="1137" stroke="#b0dc88" stroke-width="2.1" stroke-linecap="round" opacity="0.55"/><line x1="193" y1="1390" x2="195" y2="1383" stroke="#9ccf74" stroke-width="1.2" stroke-linecap="round" opacity="0.55"/><line x1="257" y1="1307" x2="262" y2="1289" stroke="#3a7328" stroke-width="1.8" stroke-linecap="round" opacity="0.55"/><line x1="74" y1="1145" x2="78" y2="1128" stroke="#9ccf74" stroke-width="1.3" stroke-linecap="round" opacity="0.55"/><line x1="175" y1="1341" x2="188" y2="1329" stroke="#3a7328" stroke-width="1.2" stroke-linecap="round" opacity="0.55"/><line x1="388" y1="1384" x2="387" y2="1375" stroke="#9ccf74" stroke-width="1.3" stroke-linecap="round" opacity="0.55"/><line x1="286" y1="1351" x2="284" y2="1340" stroke="#6aa848" stroke-width="2.1" stroke-linecap="round" opacity="0.55"/><line x1="333" y1="1330" x2="330" y2="1324" stroke="#2c5a20" stroke-width="2.0" stroke-linecap="round" opacity="0.55"/><line x1="313" y1="1145" x2="303" y2="1131" stroke="#a4d27c" stroke-width="2.2" stroke-linecap="round" opacity="0.55"/><line x1="152" y1="1270" x2="149" y2="1253" stroke="#4f8c35" stroke-width="1.9" stroke-linecap="round" opacity="0.55"/><line x1="165" y1="1141" x2="160" y2="1130" stroke="#3a7328" stroke-width="1.2" stroke-linecap="round" opacity="0.55"/><line x1="117" y1="1438" x2="123" y2="1433" stroke="#6aa848" stroke-width="1.3" stroke-linecap="round" opacity="0.55"/><line x1="98" y1="1325" x2="103" y2="1318" stroke="#4f8c35" stroke-width="1.2" stroke-linecap="round" opacity="0.55"/><line x1="89" y1="1272" x2="96" y2="1255" stroke="#3a7328" stroke-width="1.9" stroke-linecap="round" opacity="0.55"/><line x1="224" y1="1169" x2="233" y2="1155" stroke="#4f8c35" stroke-width="1.4" stroke-linecap="round" opacity="0.55"/><line x1="245" y1="1227" x2="250" y2="1218" stroke="#4f8c35" stroke-width="1.1" stroke-linecap="round" opacity="0.55"/><line x1="134" y1="1201" x2="138" y2="1190" stroke="#2c5a20" stroke-width="1.4" stroke-linecap="round" opacity="0.55"/><line x1="243" y1="1190" x2="229" y2="1176" stroke="#2c5a20" stroke-width="2.0" stroke-linecap="round" opacity="0.55"/><line x1="195" y1="1295" x2="187" y2="1288" stroke="#3a7328" stroke-width="1.3" stroke-linecap="round" opacity="0.55"/><line x1="244" y1="1147" x2="229" y2="1134" stroke="#6aa848" stroke-width="1.6" stroke-linecap="round" opacity="0.55"/><line x1="142" y1="1450" x2="139" y2="1443" stroke="#6aa848" stroke-width="1.9" stroke-linecap="round" opacity="0.55"/><line x1="344" y1="1463" x2="342" y2="1457" stroke="#4f8c35" stroke-width="2.2" stroke-linecap="round" opacity="0.55"/><line x1="197" y1="1149" x2="188" y2="1142" stroke="#6aa848" stroke-width="1.5" stroke-linecap="round" opacity="0.55"/><line x1="353" y1="1440" x2="362" y2="1428" stroke="#9ccf74" stroke-width="1.8" stroke-linecap="round" opacity="0.55"/><line x1="100" y1="1247" x2="97" y2="1240" stroke="#a4d27c" stroke-width="1.1" stroke-linecap="round" opacity="0.55"/><line x1="355" y1="1264" x2="347" y2="1250" stroke="#b0dc88" stroke-width="0.9" stroke-linecap="round" opacity="0.55"/><line x1="156" y1="1258" x2="168" y2="1244" stroke="#3a7328" stroke-width="1.2" stroke-linecap="round" opacity="0.55"/><line x1="242" y1="1388" x2="248" y2="1376" stroke="#9ccf74" stroke-width="1.0" stroke-linecap="round" opacity="0.55"/><line x1="323" y1="1455" x2="326" y2="1445" stroke="#6aa848" stroke-width="1.9" stroke-linecap="round" opacity="0.55"/><line x1="105" y1="1249" x2="102" y2="1242" stroke="#6aa848" stroke-width="1.3" stroke-linecap="round" opacity="0.55"/><line x1="218" y1="1411" x2="230" y2="1397" stroke="#6aa848" stroke-width="1.8" stroke-linecap="round" opacity="0.55"/><line x1="135" y1="1152" x2="142" y2="1146" stroke="#2c5a20" stroke-width="2.0" stroke-linecap="round" opacity="0.55"/><line x1="117" y1="1290" x2="104" y2="1276" stroke="#3a7328" stroke-width="1.7" stroke-linecap="round" opacity="0.55"/><line x1="222" y1="1254" x2="228" y2="1243" stroke="#2c5a20" stroke-width="1.0" stroke-linecap="round" opacity="0.55"/><line x1="144" y1="1159" x2="149" y2="1146" stroke="#b0dc88" stroke-width="1.4" stroke-linecap="round" opacity="0.55"/><line x1="120" y1="1280" x2="117" y2="1274" stroke="#7cb856" stroke-width="1.3" stroke-linecap="round" opacity="0.55"/><line x1="126" y1="1304" x2="120" y2="1287" stroke="#9ccf74" stroke-width="1.0" stroke-linecap="round" opacity="0.55"/><line x1="242" y1="1351" x2="251" y2="1335" stroke="#6aa848" stroke-width="2.0" stroke-linecap="round" opacity="0.55"/><line x1="110" y1="1393" x2="119" y2="1385" stroke="#7cb856" stroke-width="2.2" stroke-linecap="round" opacity="0.55"/><line x1="380" y1="1173" x2="373" y2="1155" stroke="#3a7328" stroke-width="2.0" stroke-linecap="round" opacity="0.55"/><line x1="398" y1="1188" x2="401" y2="1177" stroke="#2c5a20" stroke-width="1.5" stroke-linecap="round" opacity="0.55"/><line x1="218" y1="1405" x2="226" y2="1398" stroke="#2c5a20" stroke-width="1.4" stroke-linecap="round" opacity="0.55"/><line x1="376" y1="1213" x2="377" y2="1205" stroke="#b0dc88" stroke-width="1.5" stroke-linecap="round" opacity="0.55"/><line x1="147" y1="1199" x2="150" y2="1182" stroke="#6aa848" stroke-width="1.9" stroke-linecap="round" opacity="0.55"/><line x1="129" y1="1186" x2="133" y2="1172" stroke="#4f8c35" stroke-width="1.6" stroke-linecap="round" opacity="0.55"/><line x1="138" y1="1162" x2="143" y2="1151" stroke="#3a7328" stroke-width="1.5" stroke-linecap="round" opacity="0.55"/><line x1="186" y1="1234" x2="191" y2="1216" stroke="#9ccf74" stroke-width="0.8" stroke-linecap="round" opacity="0.55"/><line x1="375" y1="1300" x2="381" y2="1292" stroke="#b0dc88" stroke-width="1.6" stroke-linecap="round" opacity="0.55"/><line x1="400" y1="1152" x2="405" y2="1139" stroke="#3a7328" stroke-width="1.3" stroke-linecap="round" opacity="0.55"/><line x1="382" y1="1465" x2="375" y2="1457" stroke="#4f8c35" stroke-width="1.9" stroke-linecap="round" opacity="0.55"/><line x1="360" y1="1248" x2="364" y2="1237" stroke="#3a7328" stroke-width="1.2" stroke-linecap="round" opacity="0.55"/><line x1="106" y1="1385" x2="105" y2="1379" stroke="#b0dc88" stroke-width="0.8" stroke-linecap="round" opacity="0.55"/><line x1="394" y1="1215" x2="390" y2="1209" stroke="#7cb856" stroke-width="1.6" stroke-linecap="round" opacity="0.55"/><line x1="390" y1="1147" x2="401" y2="1135" stroke="#7cb856" stroke-width="0.8" stroke-linecap="round" opacity="0.55"/><line x1="271" y1="1333" x2="271" y2="1317" stroke="#9ccf74" stroke-width="1.3" stroke-linecap="round" opacity="0.55"/><line x1="101" y1="1200" x2="96" y2="1188" stroke="#7cb856" stroke-width="1.0" stroke-linecap="round" opacity="0.55"/><line x1="111" y1="1436" x2="111" y2="1427" stroke="#4f8c35" stroke-width="1.0" stroke-linecap="round" opacity="0.55"/><line x1="262" y1="1390" x2="252" y2="1376" stroke="#a4d27c" stroke-width="1.8" stroke-linecap="round" opacity="0.55"/><line x1="270" y1="1342" x2="255" y2="1329" stroke="#3a7328" stroke-width="1.9" stroke-linecap="round" opacity="0.55"/><line x1="183" y1="1221" x2="180" y2="1209" stroke="#2c5a20" stroke-width="1.9" stroke-linecap="round" opacity="0.55"/><line x1="354" y1="1158" x2="355" y2="1139" stroke="#2c5a20" stroke-width="1.1" stroke-linecap="round" opacity="0.55"/><line x1="211" y1="1352" x2="208" y2="1339" stroke="#9ccf74" stroke-width="1.3" stroke-linecap="round" opacity="0.55"/><line x1="137" y1="1364" x2="132" y2="1354" stroke="#a4d27c" stroke-width="1.9" stroke-linecap="round" opacity="0.55"/><line x1="384" y1="1352" x2="394" y2="1337" stroke="#3a7328" stroke-width="0.8" stroke-linecap="round" opacity="0.55"/><line x1="285" y1="1229" x2="288" y2="1220" stroke="#3a7328" stroke-width="1.7" stroke-linecap="round" opacity="0.55"/><line x1="154" y1="1314" x2="152" y2="1295" stroke="#7cb856" stroke-width="1.0" stroke-linecap="round" opacity="0.55"/><line x1="186" y1="1196" x2="173" y2="1182" stroke="#7cb856" stroke-width="0.9" stroke-linecap="round" opacity="0.55"/><line x1="268" y1="1452" x2="266" y2="1439" stroke="#7cb856" stroke-width="2.1" stroke-linecap="round" opacity="0.55"/><line x1="263" y1="1232" x2="270" y2="1217" stroke="#7cb856" stroke-width="2.0" stroke-linecap="round" opacity="0.55"/><line x1="274" y1="1331" x2="277" y2="1323" stroke="#2c5a20" stroke-width="1.4" stroke-linecap="round" opacity="0.55"/><line x1="254" y1="1345" x2="253" y2="1335" stroke="#4f8c35" stroke-width="1.3" stroke-linecap="round" opacity="0.55"/><line x1="133" y1="1323" x2="142" y2="1315" stroke="#2c5a20" stroke-width="1.0" stroke-linecap="round" opacity="0.55"/><line x1="389" y1="1249" x2="386" y2="1239" stroke="#4f8c35" stroke-width="1.2" stroke-linecap="round" opacity="0.55"/><line x1="329" y1="1193" x2="316" y2="1180" stroke="#6aa848" stroke-width="1.7" stroke-linecap="round" opacity="0.55"/><line x1="243" y1="1420" x2="239" y2="1403" stroke="#4f8c35" stroke-width="2.2" stroke-linecap="round" opacity="0.55"/><line x1="297" y1="1453" x2="295" y2="1438" stroke="#b0dc88" stroke-width="1.7" stroke-linecap="round" opacity="0.55"/><line x1="276" y1="1425" x2="284" y2="1414" stroke="#6aa848" stroke-width="1.2" stroke-linecap="round" opacity="0.55"/><line x1="281" y1="1352" x2="285" y2="1341" stroke="#9ccf74" stroke-width="0.8" stroke-linecap="round" opacity="0.55"/><line x1="327" y1="1336" x2="326" y2="1317" stroke="#b0dc88" stroke-width="1.4" stroke-linecap="round" opacity="0.55"/><line x1="333" y1="1432" x2="335" y2="1421" stroke="#6aa848" stroke-width="1.8" stroke-linecap="round" opacity="0.55"/><line x1="167" y1="1258" x2="163" y2="1245" stroke="#a4d27c" stroke-width="1.7" stroke-linecap="round" opacity="0.55"/><line x1="72" y1="1390" x2="81" y2="1383" stroke="#7cb856" stroke-width="1.1" stroke-linecap="round" opacity="0.55"/><line x1="172" y1="1189" x2="174" y2="1175" stroke="#9ccf74" stroke-width="2.0" stroke-linecap="round" opacity="0.55"/><line x1="181" y1="1465" x2="182" y2="1455" stroke="#2c5a20" stroke-width="1.1" stroke-linecap="round" opacity="0.55"/><line x1="213" y1="1445" x2="208" y2="1441" stroke="#6aa848" stroke-width="1.2" stroke-linecap="round" opacity="0.55"/><line x1="250" y1="1245" x2="252" y2="1233" stroke="#a4d27c" stroke-width="1.3" stroke-linecap="round" opacity="0.55"/><line x1="190" y1="1339" x2="185" y2="1321" stroke="#9ccf74" stroke-width="1.5" stroke-linecap="round" opacity="0.55"/><line x1="103" y1="1265" x2="101" y2="1252" stroke="#b0dc88" stroke-width="2.0" stroke-linecap="round" opacity="0.55"/><line x1="393" y1="1303" x2="392" y2="1288" stroke="#2c5a20" stroke-width="1.8" stroke-linecap="round" opacity="0.55"/><line x1="320" y1="1171" x2="317" y2="1160" stroke="#9ccf74" stroke-width="2.0" stroke-linecap="round" opacity="0.55"/><line x1="242" y1="1177" x2="252" y2="1165" stroke="#a4d27c" stroke-width="1.7" stroke-linecap="round" opacity="0.55"/><line x1="246" y1="1413" x2="236" y2="1397" stroke="#a4d27c" stroke-width="1.1" stroke-linecap="round" opacity="0.55"/><line x1="281" y1="1342" x2="276" y2="1323" stroke="#3a7328" stroke-width="1.8" stroke-linecap="round" opacity="0.55"/><line x1="74" y1="1141" x2="79" y2="1128" stroke="#7cb856" stroke-width="1.4" stroke-linecap="round" opacity="0.55"/><line x1="103" y1="1145" x2="97" y2="1140" stroke="#7cb856" stroke-width="2.0" stroke-linecap="round" opacity="0.55"/><line x1="370" y1="1312" x2="365" y2="1305" stroke="#9ccf74" stroke-width="1.0" stroke-linecap="round" opacity="0.55"/><line x1="244" y1="1311" x2="238" y2="1306" stroke="#6aa848" stroke-width="2.0" stroke-linecap="round" opacity="0.55"/><line x1="275" y1="1410" x2="271" y2="1406" stroke="#2c5a20" stroke-width="1.0" stroke-linecap="round" opacity="0.55"/><line x1="150" y1="1232" x2="139" y2="1222" stroke="#9ccf74" stroke-width="1.3" stroke-linecap="round" opacity="0.55"/><line x1="221" y1="1269" x2="207" y2="1256" stroke="#3a7328" stroke-width="1.4" stroke-linecap="round" opacity="0.55"/><line x1="278" y1="1224" x2="264" y2="1211" stroke="#b0dc88" stroke-width="1.2" stroke-linecap="round" opacity="0.55"/><line x1="371" y1="1413" x2="366" y2="1400" stroke="#6aa848" stroke-width="2.2" stroke-linecap="round" opacity="0.55"/><line x1="93" y1="1367" x2="97" y2="1353" stroke="#a4d27c" stroke-width="1.2" stroke-linecap="round" opacity="0.55"/><line x1="363" y1="1302" x2="368" y2="1294" stroke="#b0dc88" stroke-width="1.0" stroke-linecap="round" opacity="0.55"/><line x1="197" y1="1143" x2="204" y2="1134" stroke="#2c5a20" stroke-width="1.0" stroke-linecap="round" opacity="0.55"/><line x1="249" y1="1269" x2="248" y2="1262" stroke="#9ccf74" stroke-width="1.4" stroke-linecap="round" opacity="0.55"/><line x1="376" y1="1326" x2="373" y2="1313" stroke="#2c5a20" stroke-width="1.1" stroke-linecap="round" opacity="0.55"/><line x1="82" y1="1363" x2="79" y2="1355" stroke="#b0dc88" stroke-width="0.9" stroke-linecap="round" opacity="0.55"/><line x1="160" y1="1420" x2="153" y2="1410" stroke="#4f8c35" stroke-width="1.0" stroke-linecap="round" opacity="0.55"/><line x1="188" y1="1382" x2="184" y2="1363" stroke="#4f8c35" stroke-width="1.2" stroke-linecap="round" opacity="0.55"/><line x1="229" y1="1208" x2="239" y2="1196" stroke="#7cb856" stroke-width="1.6" stroke-linecap="round" opacity="0.55"/><line x1="218" y1="1472" x2="218" y2="1460" stroke="#4f8c35" stroke-width="1.0" stroke-linecap="round" opacity="0.55"/><line x1="321" y1="1367" x2="309" y2="1354" stroke="#a4d27c" stroke-width="0.8" stroke-linecap="round" opacity="0.55"/><line x1="311" y1="1189" x2="298" y2="1178" stroke="#b0dc88" stroke-width="1.9" stroke-linecap="round" opacity="0.55"/><line x1="148" y1="1203" x2="152" y2="1198" stroke="#2c5a20" stroke-width="1.9" stroke-linecap="round" opacity="0.55"/><line x1="324" y1="1205" x2="327" y2="1198" stroke="#7cb856" stroke-width="1.0" stroke-linecap="round" opacity="0.55"/><line x1="310" y1="1235" x2="307" y2="1216" stroke="#b0dc88" stroke-width="2.1" stroke-linecap="round" opacity="0.55"/><line x1="129" y1="1263" x2="137" y2="1249" stroke="#a4d27c" stroke-width="0.8" stroke-linecap="round" opacity="0.55"/><line x1="306" y1="1295" x2="315" y2="1288" stroke="#9ccf74" stroke-width="1.1" stroke-linecap="round" opacity="0.55"/><line x1="109" y1="1446" x2="115" y2="1431" stroke="#3a7328" stroke-width="1.4" stroke-linecap="round" opacity="0.55"/><line x1="274" y1="1284" x2="278" y2="1277" stroke="#3a7328" stroke-width="1.6" stroke-linecap="round" opacity="0.55"/><line x1="281" y1="1455" x2="282" y2="1446" stroke="#6aa848" stroke-width="1.8" stroke-linecap="round" opacity="0.55"/><line x1="155" y1="1286" x2="159" y2="1275" stroke="#3a7328" stroke-width="1.0" stroke-linecap="round" opacity="0.55"/><line x1="326" y1="1360" x2="338" y2="1346" stroke="#3a7328" stroke-width="2.2" stroke-linecap="round" opacity="0.55"/><line x1="298" y1="1152" x2="293" y2="1136" stroke="#2c5a20" stroke-width="1.8" stroke-linecap="round" opacity="0.55"/><line x1="99" y1="1373" x2="96" y2="1357" stroke="#4f8c35" stroke-width="1.2" stroke-linecap="round" opacity="0.55"/><line x1="100" y1="1457" x2="98" y2="1438" stroke="#6aa848" stroke-width="1.5" stroke-linecap="round" opacity="0.55"/><line x1="297" y1="1209" x2="302" y2="1192" stroke="#b0dc88" stroke-width="1.5" stroke-linecap="round" opacity="0.55"/><line x1="133" y1="1459" x2="141" y2="1447" stroke="#b0dc88" stroke-width="1.6" stroke-linecap="round" opacity="0.55"/><line x1="395" y1="1354" x2="396" y2="1344" stroke="#3a7328" stroke-width="1.0" stroke-linecap="round" opacity="0.55"/><line x1="186" y1="1171" x2="188" y2="1163" stroke="#6aa848" stroke-width="1.7" stroke-linecap="round" opacity="0.55"/><line x1="150" y1="1221" x2="150" y2="1209" stroke="#2c5a20" stroke-width="1.8" stroke-linecap="round" opacity="0.55"/><line x1="115" y1="1377" x2="116" y2="1368" stroke="#9ccf74" stroke-width="1.6" stroke-linecap="round" opacity="0.55"/><line x1="325" y1="1197" x2="329" y2="1183" stroke="#6aa848" stroke-width="2.0" stroke-linecap="round" opacity="0.55"/><line x1="206" y1="1209" x2="208" y2="1203" stroke="#6aa848" stroke-width="1.1" stroke-linecap="round" opacity="0.55"/><line x1="90" y1="1234" x2="82" y2="1221" stroke="#6aa848" stroke-width="2.1" stroke-linecap="round" opacity="0.55"/><line x1="124" y1="1289" x2="125" y2="1279" stroke="#9ccf74" stroke-width="0.9" stroke-linecap="round" opacity="0.55"/><line x1="227" y1="1468" x2="227" y2="1452" stroke="#2c5a20" stroke-width="2.2" stroke-linecap="round" opacity="0.55"/><line x1="259" y1="1176" x2="259" y2="1164" stroke="#4f8c35" stroke-width="1.9" stroke-linecap="round" opacity="0.55"/><line x1="178" y1="1260" x2="171" y2="1253" stroke="#7cb856" stroke-width="1.7" stroke-linecap="round" opacity="0.55"/><line x1="96" y1="1390" x2="87" y2="1383" stroke="#b0dc88" stroke-width="1.2" stroke-linecap="round" opacity="0.55"/><line x1="132" y1="1354" x2="143" y2="1338" stroke="#b0dc88" stroke-width="0.9" stroke-linecap="round" opacity="0.55"/><line x1="311" y1="1244" x2="313" y2="1233" stroke="#2c5a20" stroke-width="1.2" stroke-linecap="round" opacity="0.55"/><line x1="193" y1="1325" x2="189" y2="1307" stroke="#4f8c35" stroke-width="0.9" stroke-linecap="round" opacity="0.55"/><line x1="106" y1="1409" x2="120" y2="1394" stroke="#a4d27c" stroke-width="2.1" stroke-linecap="round" opacity="0.55"/><line x1="387" y1="1306" x2="387" y2="1297" stroke="#7cb856" stroke-width="1.6" stroke-linecap="round" opacity="0.55"/><line x1="280" y1="1188" x2="276" y2="1181" stroke="#a4d27c" stroke-width="0.9" stroke-linecap="round" opacity="0.55"/><line x1="83" y1="1287" x2="75" y2="1274" stroke="#3a7328" stroke-width="0.8" stroke-linecap="round" opacity="0.55"/><line x1="275" y1="1419" x2="275" y2="1411" stroke="#9ccf74" stroke-width="1.7" stroke-linecap="round" opacity="0.55"/><line x1="242" y1="1281" x2="239" y2="1269" stroke="#b0dc88" stroke-width="2.1" stroke-linecap="round" opacity="0.55"/><line x1="125" y1="1239" x2="124" y2="1225" stroke="#2c5a20" stroke-width="1.6" stroke-linecap="round" opacity="0.55"/><line x1="227" y1="1322" x2="227" y2="1310" stroke="#b0dc88" stroke-width="2.2" stroke-linecap="round" opacity="0.55"/><line x1="392" y1="1348" x2="396" y2="1342" stroke="#2c5a20" stroke-width="1.7" stroke-linecap="round" opacity="0.55"/><line x1="170" y1="1331" x2="179" y2="1323" stroke="#b0dc88" stroke-width="1.2" stroke-linecap="round" opacity="0.55"/><line x1="185" y1="1437" x2="179" y2="1431" stroke="#6aa848" stroke-width="1.8" stroke-linecap="round" opacity="0.55"/><line x1="119" y1="1334" x2="121" y2="1315" stroke="#2c5a20" stroke-width="1.5" stroke-linecap="round" opacity="0.55"/><line x1="259" y1="1273" x2="254" y2="1266" stroke="#4f8c35" stroke-width="1.6" stroke-linecap="round" opacity="0.55"/><line x1="108" y1="1429" x2="104" y2="1422" stroke="#7cb856" stroke-width="1.8" stroke-linecap="round" opacity="0.55"/><line x1="146" y1="1293" x2="147" y2="1278" stroke="#9ccf74" stroke-width="2.0" stroke-linecap="round" opacity="0.55"/><line x1="298" y1="1408" x2="290" y2="1398" stroke="#9ccf74" stroke-width="1.7" stroke-linecap="round" opacity="0.55"/><line x1="392" y1="1313" x2="391" y2="1297" stroke="#b0dc88" stroke-width="2.2" stroke-linecap="round" opacity="0.55"/><line x1="134" y1="1299" x2="127" y2="1291" stroke="#3a7328" stroke-width="1.4" stroke-linecap="round" opacity="0.55"/><line x1="86" y1="1154" x2="93" y2="1136" stroke="#6aa848" stroke-width="1.2" stroke-linecap="round" opacity="0.55"/><line x1="307" y1="1283" x2="316" y2="1271" stroke="#4f8c35" stroke-width="1.6" stroke-linecap="round" opacity="0.55"/><line x1="377" y1="1432" x2="368" y2="1418" stroke="#2c5a20" stroke-width="1.9" stroke-linecap="round" opacity="0.55"/><line x1="317" y1="1144" x2="313" y2="1135" stroke="#2c5a20" stroke-width="1.8" stroke-linecap="round" opacity="0.55"/><line x1="85" y1="1342" x2="76" y2="1332" stroke="#9ccf74" stroke-width="0.8" stroke-linecap="round" opacity="0.55"/><line x1="375" y1="1221" x2="371" y2="1206" stroke="#3a7328" stroke-width="2.0" stroke-linecap="round" opacity="0.55"/><line x1="265" y1="1178" x2="259" y2="1173" stroke="#7cb856" stroke-width="1.1" stroke-linecap="round" opacity="0.55"/><line x1="256" y1="1237" x2="259" y2="1226" stroke="#b0dc88" stroke-width="1.6" stroke-linecap="round" opacity="0.55"/><line x1="154" y1="1474" x2="158" y2="1465" stroke="#6aa848" stroke-width="0.8" stroke-linecap="round" opacity="0.55"/><line x1="185" y1="1191" x2="185" y2="1172" stroke="#3a7328" stroke-width="0.9" stroke-linecap="round" opacity="0.55"/><line x1="278" y1="1356" x2="281" y2="1338" stroke="#b0dc88" stroke-width="1.8" stroke-linecap="round" opacity="0.55"/><line x1="220" y1="1217" x2="230" y2="1208" stroke="#2c5a20" stroke-width="1.3" stroke-linecap="round" opacity="0.55"/><line x1="142" y1="1439" x2="144" y2="1433" stroke="#b0dc88" stroke-width="1.9" stroke-linecap="round" opacity="0.55"/><line x1="314" y1="1251" x2="313" y2="1232" stroke="#2c5a20" stroke-width="0.8" stroke-linecap="round" opacity="0.55"/><line x1="264" y1="1252" x2="255" y2="1244" stroke="#3a7328" stroke-width="1.7" stroke-linecap="round" opacity="0.55"/><line x1="314" y1="1188" x2="312" y2="1181" stroke="#7cb856" stroke-width="1.3" stroke-linecap="round" opacity="0.55"/><line x1="262" y1="1336" x2="253" y2="1323" stroke="#9ccf74" stroke-width="2.0" stroke-linecap="round" opacity="0.55"/><line x1="329" y1="1352" x2="332" y2="1341" stroke="#7cb856" stroke-width="1.9" stroke-linecap="round" opacity="0.55"/><line x1="150" y1="1407" x2="146" y2="1401" stroke="#2c5a20" stroke-width="1.8" stroke-linecap="round" opacity="0.55"/><line x1="240" y1="1353" x2="237" y2="1340" stroke="#a4d27c" stroke-width="1.3" stroke-linecap="round" opacity="0.55"/><line x1="306" y1="1365" x2="317" y2="1352" stroke="#2c5a20" stroke-width="2.1" stroke-linecap="round" opacity="0.55"/><line x1="341" y1="1474" x2="336" y2="1467" stroke="#6aa848" stroke-width="1.4" stroke-linecap="round" opacity="0.55"/><line x1="203" y1="1399" x2="213" y2="1389" stroke="#b0dc88" stroke-width="1.2" stroke-linecap="round" opacity="0.55"/><line x1="173" y1="1383" x2="175" y2="1364" stroke="#2c5a20" stroke-width="0.9" stroke-linecap="round" opacity="0.55"/><line x1="134" y1="1450" x2="135" y2="1440" stroke="#2c5a20" stroke-width="2.2" stroke-linecap="round" opacity="0.55"/><line x1="190" y1="1399" x2="187" y2="1381" stroke="#9ccf74" stroke-width="2.0" stroke-linecap="round" opacity="0.55"/><line x1="177" y1="1199" x2="186" y2="1188" stroke="#b0dc88" stroke-width="1.7" stroke-linecap="round" opacity="0.55"/><line x1="149" y1="1147" x2="140" y2="1138" stroke="#7cb856" stroke-width="2.0" stroke-linecap="round" opacity="0.55"/><line x1="287" y1="1206" x2="295" y2="1188" stroke="#3a7328" stroke-width="0.9" stroke-linecap="round" opacity="0.55"/><line x1="341" y1="1433" x2="339" y2="1426" stroke="#4f8c35" stroke-width="1.2" stroke-linecap="round" opacity="0.55"/><line x1="285" y1="1145" x2="283" y2="1139" stroke="#2c5a20" stroke-width="1.3" stroke-linecap="round" opacity="0.55"/><line x1="321" y1="1357" x2="318" y2="1342" stroke="#2c5a20" stroke-width="1.0" stroke-linecap="round" opacity="0.55"/><line x1="359" y1="1407" x2="349" y2="1396" stroke="#6aa848" stroke-width="2.2" stroke-linecap="round" opacity="0.55"/><line x1="204" y1="1455" x2="208" y2="1450" stroke="#2c5a20" stroke-width="1.6" stroke-linecap="round" opacity="0.55"/><line x1="401" y1="1159" x2="404" y2="1143" stroke="#2c5a20" stroke-width="1.0" stroke-linecap="round" opacity="0.55"/><line x1="76" y1="1211" x2="77" y2="1193" stroke="#2c5a20" stroke-width="1.9" stroke-linecap="round" opacity="0.55"/><line x1="212" y1="1320" x2="214" y2="1307" stroke="#2c5a20" stroke-width="1.1" stroke-linecap="round" opacity="0.55"/><line x1="277" y1="1413" x2="277" y2="1406" stroke="#7cb856" stroke-width="1.7" stroke-linecap="round" opacity="0.55"/><line x1="254" y1="1377" x2="255" y2="1366" stroke="#7cb856" stroke-width="1.0" stroke-linecap="round" opacity="0.55"/><line x1="73" y1="1299" x2="78" y2="1283" stroke="#2c5a20" stroke-width="1.0" stroke-linecap="round" opacity="0.55"/><line x1="281" y1="1274" x2="295" y2="1262" stroke="#b0dc88" stroke-width="1.0" stroke-linecap="round" opacity="0.55"/><line x1="252" y1="1209" x2="257" y2="1200" stroke="#2c5a20" stroke-width="1.8" stroke-linecap="round" opacity="0.55"/><line x1="372" y1="1432" x2="383" y2="1418" stroke="#3a7328" stroke-width="1.3" stroke-linecap="round" opacity="0.55"/><line x1="308" y1="1288" x2="313" y2="1281" stroke="#2c5a20" stroke-width="2.1" stroke-linecap="round" opacity="0.55"/><line x1="200" y1="1211" x2="203" y2="1206" stroke="#3a7328" stroke-width="0.9" stroke-linecap="round" opacity="0.55"/><line x1="286" y1="1275" x2="290" y2="1269" stroke="#a4d27c" stroke-width="1.4" stroke-linecap="round" opacity="0.55"/><line x1="378" y1="1457" x2="380" y2="1448" stroke="#7cb856" stroke-width="0.8" stroke-linecap="round" opacity="0.55"/><line x1="308" y1="1221" x2="305" y2="1211" stroke="#a4d27c" stroke-width="1.7" stroke-linecap="round" opacity="0.55"/><line x1="170" y1="1473" x2="163" y2="1461" stroke="#b0dc88" stroke-width="1.5" stroke-linecap="round" opacity="0.55"/><line x1="383" y1="1398" x2="389" y2="1392" stroke="#7cb856" stroke-width="1.2" stroke-linecap="round" opacity="0.55"/><line x1="181" y1="1303" x2="186" y2="1296" stroke="#6aa848" stroke-width="1.1" stroke-linecap="round" opacity="0.55"/><line x1="87" y1="1402" x2="97" y2="1389" stroke="#3a7328" stroke-width="1.9" stroke-linecap="round" opacity="0.55"/><line x1="359" y1="1201" x2="371" y2="1185" stroke="#7cb856" stroke-width="1.8" stroke-linecap="round" opacity="0.55"/><line x1="340" y1="1191" x2="345" y2="1185" stroke="#7cb856" stroke-width="1.0" stroke-linecap="round" opacity="0.55"/><line x1="317" y1="1173" x2="308" y2="1160" stroke="#9ccf74" stroke-width="1.4" stroke-linecap="round" opacity="0.55"/><line x1="285" y1="1363" x2="283" y2="1352" stroke="#3a7328" stroke-width="1.6" stroke-linecap="round" opacity="0.55"/><line x1="137" y1="1350" x2="131" y2="1345" stroke="#4f8c35" stroke-width="1.6" stroke-linecap="round" opacity="0.55"/><line x1="304" y1="1384" x2="291" y2="1371" stroke="#9ccf74" stroke-width="2.0" stroke-linecap="round" opacity="0.55"/><line x1="110" y1="1303" x2="103" y2="1294" stroke="#b0dc88" stroke-width="1.1" stroke-linecap="round" opacity="0.55"/><line x1="251" y1="1352" x2="253" y2="1332" stroke="#2c5a20" stroke-width="2.0" stroke-linecap="round" opacity="0.55"/><line x1="391" y1="1166" x2="404" y2="1154" stroke="#4f8c35" stroke-width="1.8" stroke-linecap="round" opacity="0.55"/><line x1="161" y1="1199" x2="159" y2="1193" stroke="#3a7328" stroke-width="1.1" stroke-linecap="round" opacity="0.55"/><line x1="86" y1="1404" x2="93" y2="1398" stroke="#2c5a20" stroke-width="1.8" stroke-linecap="round" opacity="0.55"/><line x1="289" y1="1322" x2="290" y2="1307" stroke="#7cb856" stroke-width="1.4" stroke-linecap="round" opacity="0.55"/><line x1="177" y1="1280" x2="185" y2="1273" stroke="#a4d27c" stroke-width="2.0" stroke-linecap="round" opacity="0.55"/><line x1="339" y1="1441" x2="342" y2="1432" stroke="#7cb856" stroke-width="1.8" stroke-linecap="round" opacity="0.55"/><line x1="315" y1="1472" x2="323" y2="1459" stroke="#9ccf74" stroke-width="2.0" stroke-linecap="round" opacity="0.55"/><line x1="333" y1="1444" x2="321" y2="1434" stroke="#2c5a20" stroke-width="1.8" stroke-linecap="round" opacity="0.55"/><line x1="218" y1="1364" x2="217" y2="1350" stroke="#6aa848" stroke-width="1.8" stroke-linecap="round" opacity="0.55"/><line x1="356" y1="1311" x2="359" y2="1291" stroke="#4f8c35" stroke-width="2.0" stroke-linecap="round" opacity="0.55"/><line x1="335" y1="1431" x2="333" y2="1425" stroke="#7cb856" stroke-width="1.7" stroke-linecap="round" opacity="0.55"/><line x1="297" y1="1248" x2="300" y2="1235" stroke="#4f8c35" stroke-width="2.1" stroke-linecap="round" opacity="0.55"/><line x1="326" y1="1228" x2="337" y2="1213" stroke="#2c5a20" stroke-width="1.5" stroke-linecap="round" opacity="0.55"/><line x1="230" y1="1214" x2="218" y2="1199" stroke="#2c5a20" stroke-width="1.5" stroke-linecap="round" opacity="0.55"/><line x1="247" y1="1412" x2="243" y2="1405" stroke="#6aa848" stroke-width="1.0" stroke-linecap="round" opacity="0.55"/><line x1="387" y1="1427" x2="392" y2="1409" stroke="#2c5a20" stroke-width="1.3" stroke-linecap="round" opacity="0.55"/><line x1="349" y1="1414" x2="344" y2="1408" stroke="#7cb856" stroke-width="1.3" stroke-linecap="round" opacity="0.55"/><line x1="192" y1="1362" x2="193" y2="1352" stroke="#9ccf74" stroke-width="1.2" stroke-linecap="round" opacity="0.55"/><line x1="167" y1="1289" x2="158" y2="1278" stroke="#b0dc88" stroke-width="1.9" stroke-linecap="round" opacity="0.55"/><line x1="120" y1="1368" x2="117" y2="1355" stroke="#4f8c35" stroke-width="1.7" stroke-linecap="round" opacity="0.55"/><line x1="245" y1="1409" x2="239" y2="1396" stroke="#3a7328" stroke-width="1.6" stroke-linecap="round" opacity="0.55"/><line x1="89" y1="1200" x2="93" y2="1191" stroke="#2c5a20" stroke-width="1.2" stroke-linecap="round" opacity="0.55"/><line x1="159" y1="1287" x2="159" y2="1274" stroke="#9ccf74" stroke-width="1.1" stroke-linecap="round" opacity="0.55"/><line x1="212" y1="1405" x2="214" y2="1394" stroke="#3a7328" stroke-width="1.8" stroke-linecap="round" opacity="0.55"/><line x1="196" y1="1154" x2="204" y2="1136" stroke="#a4d27c" stroke-width="1.7" stroke-linecap="round" opacity="0.55"/><line x1="342" y1="1258" x2="339" y2="1244" stroke="#4f8c35" stroke-width="2.2" stroke-linecap="round" opacity="0.55"/><line x1="355" y1="1334" x2="349" y2="1328" stroke="#9ccf74" stroke-width="0.9" stroke-linecap="round" opacity="0.55"/><line x1="219" y1="1272" x2="216" y2="1253" stroke="#3a7328" stroke-width="1.0" stroke-linecap="round" opacity="0.55"/><line x1="259" y1="1453" x2="263" y2="1442" stroke="#6aa848" stroke-width="1.0" stroke-linecap="round" opacity="0.55"/><line x1="92" y1="1273" x2="82" y2="1260" stroke="#3a7328" stroke-width="1.7" stroke-linecap="round" opacity="0.55"/><line x1="318" y1="1275" x2="307" y2="1264" stroke="#2c5a20" stroke-width="1.9" stroke-linecap="round" opacity="0.55"/><line x1="328" y1="1180" x2="324" y2="1173" stroke="#3a7328" stroke-width="0.9" stroke-linecap="round" opacity="0.55"/><line x1="100" y1="1392" x2="100" y2="1386" stroke="#4f8c35" stroke-width="1.8" stroke-linecap="round" opacity="0.55"/><line x1="232" y1="1158" x2="236" y2="1147" stroke="#b0dc88" stroke-width="2.2" stroke-linecap="round" opacity="0.55"/><line x1="344" y1="1432" x2="337" y2="1424" stroke="#3a7328" stroke-width="1.1" stroke-linecap="round" opacity="0.55"/><line x1="251" y1="1314" x2="243" y2="1306" stroke="#7cb856" stroke-width="1.6" stroke-linecap="round" opacity="0.55"/><line x1="241" y1="1281" x2="234" y2="1274" stroke="#a4d27c" stroke-width="1.9" stroke-linecap="round" opacity="0.55"/><line x1="357" y1="1226" x2="354" y2="1220" stroke="#2c5a20" stroke-width="2.1" stroke-linecap="round" opacity="0.55"/><line x1="290" y1="1378" x2="278" y2="1363" stroke="#2c5a20" stroke-width="1.1" stroke-linecap="round" opacity="0.55"/><line x1="378" y1="1326" x2="370" y2="1319" stroke="#9ccf74" stroke-width="1.4" stroke-linecap="round" opacity="0.55"/><line x1="259" y1="1248" x2="252" y2="1233" stroke="#7cb856" stroke-width="1.1" stroke-linecap="round" opacity="0.55"/><line x1="140" y1="1466" x2="142" y2="1455" stroke="#6aa848" stroke-width="1.1" stroke-linecap="round" opacity="0.55"/><line x1="138" y1="1200" x2="143" y2="1194" stroke="#b0dc88" stroke-width="2.0" stroke-linecap="round" opacity="0.55"/><line x1="94" y1="1340" x2="84" y2="1324" stroke="#b0dc88" stroke-width="1.5" stroke-linecap="round" opacity="0.55"/><line x1="296" y1="1366" x2="293" y2="1358" stroke="#b0dc88" stroke-width="1.0" stroke-linecap="round" opacity="0.55"/><line x1="377" y1="1209" x2="373" y2="1204" stroke="#9ccf74" stroke-width="2.1" stroke-linecap="round" opacity="0.55"/><line x1="209" y1="1361" x2="201" y2="1344" stroke="#a4d27c" stroke-width="1.0" stroke-linecap="round" opacity="0.55"/><line x1="89" y1="1373" x2="76" y2="1361" stroke="#7cb856" stroke-width="1.9" stroke-linecap="round" opacity="0.55"/><line x1="363" y1="1407" x2="369" y2="1392" stroke="#7cb856" stroke-width="2.1" stroke-linecap="round" opacity="0.55"/><line x1="179" y1="1422" x2="169" y2="1408" stroke="#4f8c35" stroke-width="1.3" stroke-linecap="round" opacity="0.55"/><line x1="81" y1="1267" x2="83" y2="1258" stroke="#9ccf74" stroke-width="1.1" stroke-linecap="round" opacity="0.55"/><line x1="120" y1="1202" x2="116" y2="1191" stroke="#3a7328" stroke-width="2.0" stroke-linecap="round" opacity="0.55"/><line x1="111" y1="1449" x2="126" y2="1437" stroke="#9ccf74" stroke-width="1.2" stroke-linecap="round" opacity="0.55"/><line x1="187" y1="1391" x2="186" y2="1372" stroke="#9ccf74" stroke-width="1.1" stroke-linecap="round" opacity="0.55"/><line x1="164" y1="1241" x2="166" y2="1225" stroke="#4f8c35" stroke-width="1.0" stroke-linecap="round" opacity="0.55"/><line x1="161" y1="1439" x2="166" y2="1432" stroke="#7cb856" stroke-width="0.8" stroke-linecap="round" opacity="0.55"/><line x1="271" y1="1464" x2="265" y2="1446" stroke="#7cb856" stroke-width="0.9" stroke-linecap="round" opacity="0.55"/><line x1="182" y1="1291" x2="174" y2="1276" stroke="#b0dc88" stroke-width="1.0" stroke-linecap="round" opacity="0.55"/><line x1="349" y1="1411" x2="354" y2="1400" stroke="#9ccf74" stroke-width="1.9" stroke-linecap="round" opacity="0.55"/><line x1="270" y1="1295" x2="260" y2="1286" stroke="#9ccf74" stroke-width="1.4" stroke-linecap="round" opacity="0.55"/><line x1="303" y1="1279" x2="307" y2="1273" stroke="#b0dc88" stroke-width="1.3" stroke-linecap="round" opacity="0.55"/><line x1="292" y1="1170" x2="280" y2="1161" stroke="#6aa848" stroke-width="1.2" stroke-linecap="round" opacity="0.55"/><line x1="158" y1="1176" x2="154" y2="1168" stroke="#7cb856" stroke-width="1.6" stroke-linecap="round" opacity="0.55"/><line x1="109" y1="1297" x2="102" y2="1286" stroke="#7cb856" stroke-width="1.3" stroke-linecap="round" opacity="0.55"/><line x1="136" y1="1275" x2="132" y2="1269" stroke="#4f8c35" stroke-width="1.8" stroke-linecap="round" opacity="0.55"/><line x1="249" y1="1220" x2="244" y2="1215" stroke="#3a7328" stroke-width="1.5" stroke-linecap="round" opacity="0.55"/><line x1="335" y1="1331" x2="338" y2="1322" stroke="#b0dc88" stroke-width="1.0" stroke-linecap="round" opacity="0.55"/><line x1="158" y1="1150" x2="156" y2="1137" stroke="#7cb856" stroke-width="1.6" stroke-linecap="round" opacity="0.55"/><line x1="110" y1="1362" x2="106" y2="1354" stroke="#3a7328" stroke-width="1.9" stroke-linecap="round" opacity="0.55"/><line x1="94" y1="1253" x2="89" y2="1246" stroke="#b0dc88" stroke-width="1.9" stroke-linecap="round" opacity="0.55"/><line x1="185" y1="1412" x2="183" y2="1393" stroke="#3a7328" stroke-width="1.2" stroke-linecap="round" opacity="0.55"/><line x1="382" y1="1404" x2="369" y2="1392" stroke="#b0dc88" stroke-width="1.8" stroke-linecap="round" opacity="0.55"/><line x1="297" y1="1191" x2="295" y2="1183" stroke="#4f8c35" stroke-width="2.1" stroke-linecap="round" opacity="0.55"/><line x1="300" y1="1377" x2="296" y2="1373" stroke="#6aa848" stroke-width="0.9" stroke-linecap="round" opacity="0.55"/><line x1="246" y1="1251" x2="236" y2="1240" stroke="#9ccf74" stroke-width="1.1" stroke-linecap="round" opacity="0.55"/><line x1="279" y1="1423" x2="283" y2="1417" stroke="#2c5a20" stroke-width="1.6" stroke-linecap="round" opacity="0.55"/><line x1="339" y1="1305" x2="345" y2="1294" stroke="#7cb856" stroke-width="2.0" stroke-linecap="round" opacity="0.55"/><line x1="384" y1="1443" x2="391" y2="1427" stroke="#b0dc88" stroke-width="1.4" stroke-linecap="round" opacity="0.55"/><line x1="346" y1="1403" x2="353" y2="1395" stroke="#9ccf74" stroke-width="0.9" stroke-linecap="round" opacity="0.55"/><line x1="332" y1="1409" x2="340" y2="1393" stroke="#4f8c35" stroke-width="1.1" stroke-linecap="round" opacity="0.55"/><line x1="223" y1="1219" x2="223" y2="1201" stroke="#3a7328" stroke-width="1.3" stroke-linecap="round" opacity="0.55"/><line x1="333" y1="1406" x2="339" y2="1388" stroke="#a4d27c" stroke-width="1.4" stroke-linecap="round" opacity="0.55"/><line x1="99" y1="1359" x2="105" y2="1350" stroke="#a4d27c" stroke-width="1.9" stroke-linecap="round" opacity="0.55"/><line x1="72" y1="1304" x2="66" y2="1299" stroke="#6aa848" stroke-width="1.4" stroke-linecap="round" opacity="0.55"/><line x1="273" y1="1293" x2="270" y2="1285" stroke="#2c5a20" stroke-width="1.4" stroke-linecap="round" opacity="0.55"/><line x1="226" y1="1151" x2="220" y2="1132" stroke="#b0dc88" stroke-width="1.8" stroke-linecap="round" opacity="0.55"/><line x1="218" y1="1361" x2="222" y2="1355" stroke="#3a7328" stroke-width="1.3" stroke-linecap="round" opacity="0.55"/><line x1="370" y1="1271" x2="368" y2="1263" stroke="#b0dc88" stroke-width="1.1" stroke-linecap="round" opacity="0.55"/><line x1="368" y1="1344" x2="376" y2="1336" stroke="#6aa848" stroke-width="1.2" stroke-linecap="round" opacity="0.55"/><line x1="364" y1="1405" x2="367" y2="1387" stroke="#b0dc88" stroke-width="1.3" stroke-linecap="round" opacity="0.55"/><line x1="73" y1="1426" x2="67" y2="1419" stroke="#7cb856" stroke-width="1.8" stroke-linecap="round" opacity="0.55"/><line x1="297" y1="1470" x2="303" y2="1455" stroke="#a4d27c" stroke-width="1.0" stroke-linecap="round" opacity="0.55"/><line x1="322" y1="1225" x2="320" y2="1212" stroke="#2c5a20" stroke-width="1.4" stroke-linecap="round" opacity="0.55"/><line x1="391" y1="1261" x2="395" y2="1247" stroke="#a4d27c" stroke-width="2.1" stroke-linecap="round" opacity="0.55"/><line x1="341" y1="1160" x2="344" y2="1148" stroke="#3a7328" stroke-width="0.9" stroke-linecap="round" opacity="0.55"/><line x1="350" y1="1369" x2="351" y2="1357" stroke="#b0dc88" stroke-width="1.8" stroke-linecap="round" opacity="0.55"/><line x1="321" y1="1152" x2="319" y2="1144" stroke="#7cb856" stroke-width="1.0" stroke-linecap="round" opacity="0.55"/><line x1="267" y1="1333" x2="258" y2="1325" stroke="#7cb856" stroke-width="1.7" stroke-linecap="round" opacity="0.55"/><line x1="151" y1="1399" x2="141" y2="1390" stroke="#a4d27c" stroke-width="1.7" stroke-linecap="round" opacity="0.55"/><line x1="340" y1="1367" x2="335" y2="1348" stroke="#2c5a20" stroke-width="1.8" stroke-linecap="round" opacity="0.55"/><line x1="163" y1="1194" x2="165" y2="1177" stroke="#2c5a20" stroke-width="2.1" stroke-linecap="round" opacity="0.55"/><line x1="137" y1="1410" x2="130" y2="1403" stroke="#b0dc88" stroke-width="1.8" stroke-linecap="round" opacity="0.55"/><line x1="374" y1="1337" x2="387" y2="1326" stroke="#2c5a20" stroke-width="2.1" stroke-linecap="round" opacity="0.55"/><line x1="133" y1="1244" x2="139" y2="1238" stroke="#2c5a20" stroke-width="2.1" stroke-linecap="round" opacity="0.55"/><line x1="205" y1="1368" x2="202" y2="1358" stroke="#6aa848" stroke-width="1.2" stroke-linecap="round" opacity="0.55"/><line x1="138" y1="1444" x2="137" y2="1427" stroke="#b0dc88" stroke-width="1.9" stroke-linecap="round" opacity="0.55"/><line x1="175" y1="1191" x2="181" y2="1180" stroke="#a4d27c" stroke-width="1.9" stroke-linecap="round" opacity="0.55"/><line x1="162" y1="1262" x2="171" y2="1252" stroke="#7cb856" stroke-width="2.0" stroke-linecap="round" opacity="0.55"/><line x1="111" y1="1291" x2="100" y2="1282" stroke="#7cb856" stroke-width="1.3" stroke-linecap="round" opacity="0.55"/><line x1="385" y1="1229" x2="382" y2="1223" stroke="#9ccf74" stroke-width="1.9" stroke-linecap="round" opacity="0.55"/><line x1="297" y1="1278" x2="301" y2="1272" stroke="#7cb856" stroke-width="1.0" stroke-linecap="round" opacity="0.55"/><line x1="129" y1="1382" x2="132" y2="1375" stroke="#a4d27c" stroke-width="1.4" stroke-linecap="round" opacity="0.55"/><line x1="385" y1="1389" x2="382" y2="1378" stroke="#2c5a20" stroke-width="1.3" stroke-linecap="round" opacity="0.55"/><line x1="132" y1="1432" x2="133" y2="1419" stroke="#7cb856" stroke-width="1.0" stroke-linecap="round" opacity="0.55"/><line x1="183" y1="1162" x2="181" y2="1149" stroke="#4f8c35" stroke-width="1.6" stroke-linecap="round" opacity="0.55"/><line x1="205" y1="1332" x2="198" y2="1316" stroke="#b0dc88" stroke-width="1.0" stroke-linecap="round" opacity="0.55"/><line x1="295" y1="1393" x2="295" y2="1374" stroke="#3a7328" stroke-width="1.8" stroke-linecap="round" opacity="0.55"/><line x1="345" y1="1357" x2="350" y2="1351" stroke="#a4d27c" stroke-width="1.7" stroke-linecap="round" opacity="0.55"/><line x1="162" y1="1163" x2="165" y2="1145" stroke="#7cb856" stroke-width="1.7" stroke-linecap="round" opacity="0.55"/><line x1="373" y1="1244" x2="369" y2="1230" stroke="#9ccf74" stroke-width="1.3" stroke-linecap="round" opacity="0.55"/><line x1="304" y1="1164" x2="310" y2="1156" stroke="#3a7328" stroke-width="1.4" stroke-linecap="round" opacity="0.55"/><line x1="326" y1="1290" x2="326" y2="1270" stroke="#3a7328" stroke-width="0.9" stroke-linecap="round" opacity="0.55"/><line x1="347" y1="1177" x2="340" y2="1164" stroke="#2c5a20" stroke-width="2.2" stroke-linecap="round" opacity="0.55"/><line x1="248" y1="1217" x2="250" y2="1200" stroke="#7cb856" stroke-width="2.0" stroke-linecap="round" opacity="0.55"/><line x1="341" y1="1320" x2="328" y2="1309" stroke="#3a7328" stroke-width="1.9" stroke-linecap="round" opacity="0.55"/><line x1="160" y1="1265" x2="167" y2="1259" stroke="#9ccf74" stroke-width="1.6" stroke-linecap="round" opacity="0.55"/><line x1="204" y1="1312" x2="206" y2="1302" stroke="#3a7328" stroke-width="1.9" stroke-linecap="round" opacity="0.55"/><line x1="392" y1="1250" x2="397" y2="1246" stroke="#6aa848" stroke-width="1.6" stroke-linecap="round" opacity="0.55"/><line x1="214" y1="1465" x2="224" y2="1453" stroke="#4f8c35" stroke-width="1.3" stroke-linecap="round" opacity="0.55"/><line x1="134" y1="1275" x2="130" y2="1267" stroke="#3a7328" stroke-width="1.4" stroke-linecap="round" opacity="0.55"/><line x1="136" y1="1376" x2="131" y2="1367" stroke="#7cb856" stroke-width="1.8" stroke-linecap="round" opacity="0.55"/><line x1="388" y1="1448" x2="394" y2="1433" stroke="#9ccf74" stroke-width="1.3" stroke-linecap="round" opacity="0.55"/><line x1="210" y1="1420" x2="214" y2="1404" stroke="#7cb856" stroke-width="1.6" stroke-linecap="round" opacity="0.55"/><line x1="280" y1="1329" x2="277" y2="1319" stroke="#9ccf74" stroke-width="0.9" stroke-linecap="round" opacity="0.55"/><line x1="129" y1="1259" x2="140" y2="1246" stroke="#6aa848" stroke-width="1.9" stroke-linecap="round" opacity="0.55"/><line x1="185" y1="1427" x2="180" y2="1410" stroke="#6aa848" stroke-width="2.2" stroke-linecap="round" opacity="0.55"/><line x1="375" y1="1406" x2="375" y2="1389" stroke="#b0dc88" stroke-width="2.0" stroke-linecap="round" opacity="0.55"/><line x1="247" y1="1224" x2="245" y2="1213" stroke="#3a7328" stroke-width="2.1" stroke-linecap="round" opacity="0.55"/><line x1="135" y1="1233" x2="142" y2="1222" stroke="#a4d27c" stroke-width="1.0" stroke-linecap="round" opacity="0.55"/><line x1="370" y1="1286" x2="366" y2="1280" stroke="#a4d27c" stroke-width="0.8" stroke-linecap="round" opacity="0.55"/><line x1="342" y1="1466" x2="331" y2="1454" stroke="#4f8c35" stroke-width="2.0" stroke-linecap="round" opacity="0.55"/><line x1="249" y1="1164" x2="244" y2="1150" stroke="#6aa848" stroke-width="1.5" stroke-linecap="round" opacity="0.55"/><line x1="284" y1="1209" x2="276" y2="1192" stroke="#a4d27c" stroke-width="2.0" stroke-linecap="round" opacity="0.55"/><line x1="103" y1="1434" x2="112" y2="1426" stroke="#6aa848" stroke-width="1.9" stroke-linecap="round" opacity="0.55"/><line x1="261" y1="1381" x2="266" y2="1374" stroke="#4f8c35" stroke-width="1.8" stroke-linecap="round" opacity="0.55"/><line x1="227" y1="1435" x2="229" y2="1427" stroke="#6aa848" stroke-width="1.6" stroke-linecap="round" opacity="0.55"/><line x1="91" y1="1220" x2="98" y2="1214" stroke="#a4d27c" stroke-width="1.6" stroke-linecap="round" opacity="0.55"/><line x1="320" y1="1215" x2="326" y2="1201" stroke="#4f8c35" stroke-width="0.9" stroke-linecap="round" opacity="0.55"/><line x1="397" y1="1409" x2="392" y2="1404" stroke="#4f8c35" stroke-width="2.1" stroke-linecap="round" opacity="0.55"/><line x1="391" y1="1400" x2="381" y2="1390" stroke="#a4d27c" stroke-width="1.2" stroke-linecap="round" opacity="0.55"/><line x1="121" y1="1146" x2="125" y2="1139" stroke="#9ccf74" stroke-width="1.1" stroke-linecap="round" opacity="0.55"/><line x1="340" y1="1195" x2="341" y2="1187" stroke="#a4d27c" stroke-width="2.1" stroke-linecap="round" opacity="0.55"/><line x1="71" y1="1425" x2="73" y2="1408" stroke="#9ccf74" stroke-width="1.8" stroke-linecap="round" opacity="0.55"/><line x1="292" y1="1346" x2="290" y2="1331" stroke="#4f8c35" stroke-width="0.8" stroke-linecap="round" opacity="0.55"/><line x1="348" y1="1412" x2="347" y2="1404" stroke="#4f8c35" stroke-width="1.7" stroke-linecap="round" opacity="0.55"/><line x1="399" y1="1345" x2="390" y2="1335" stroke="#9ccf74" stroke-width="0.9" stroke-linecap="round" opacity="0.55"/><line x1="150" y1="1435" x2="156" y2="1431" stroke="#7cb856" stroke-width="1.2" stroke-linecap="round" opacity="0.55"/><line x1="325" y1="1190" x2="329" y2="1170" stroke="#4f8c35" stroke-width="0.8" stroke-linecap="round" opacity="0.55"/><line x1="95" y1="1178" x2="100" y2="1165" stroke="#a4d27c" stroke-width="1.4" stroke-linecap="round" opacity="0.55"/><line x1="206" y1="1345" x2="211" y2="1327" stroke="#9ccf74" stroke-width="2.1" stroke-linecap="round" opacity="0.55"/><line x1="350" y1="1380" x2="339" y2="1370" stroke="#a4d27c" stroke-width="1.9" stroke-linecap="round" opacity="0.55"/><line x1="88" y1="1347" x2="85" y2="1338" stroke="#b0dc88" stroke-width="1.2" stroke-linecap="round" opacity="0.55"/><line x1="171" y1="1257" x2="168" y2="1250" stroke="#6aa848" stroke-width="1.0" stroke-linecap="round" opacity="0.55"/><line x1="387" y1="1360" x2="386" y2="1345" stroke="#2c5a20" stroke-width="1.2" stroke-linecap="round" opacity="0.55"/><line x1="154" y1="1278" x2="147" y2="1272" stroke="#2c5a20" stroke-width="2.1" stroke-linecap="round" opacity="0.55"/><line x1="180" y1="1398" x2="189" y2="1382" stroke="#9ccf74" stroke-width="1.5" stroke-linecap="round" opacity="0.55"/><line x1="105" y1="1417" x2="100" y2="1403" stroke="#2c5a20" stroke-width="0.9" stroke-linecap="round" opacity="0.55"/><line x1="111" y1="1293" x2="107" y2="1288" stroke="#4f8c35" stroke-width="2.1" stroke-linecap="round" opacity="0.55"/><line x1="207" y1="1446" x2="213" y2="1428" stroke="#9ccf74" stroke-width="1.7" stroke-linecap="round" opacity="0.55"/><line x1="143" y1="1393" x2="153" y2="1381" stroke="#a4d27c" stroke-width="1.8" stroke-linecap="round" opacity="0.55"/><line x1="402" y1="1199" x2="400" y2="1184" stroke="#7cb856" stroke-width="1.9" stroke-linecap="round" opacity="0.55"/><line x1="153" y1="1226" x2="141" y2="1216" stroke="#4f8c35" stroke-width="1.7" stroke-linecap="round" opacity="0.55"/><line x1="277" y1="1360" x2="280" y2="1352" stroke="#9ccf74" stroke-width="1.6" stroke-linecap="round" opacity="0.55"/><line x1="303" y1="1242" x2="298" y2="1237" stroke="#3a7328" stroke-width="0.9" stroke-linecap="round" opacity="0.55"/><line x1="95" y1="1327" x2="101" y2="1313" stroke="#7cb856" stroke-width="2.1" stroke-linecap="round" opacity="0.55"/><line x1="221" y1="1441" x2="216" y2="1431" stroke="#b0dc88" stroke-width="1.4" stroke-linecap="round" opacity="0.55"/><line x1="314" y1="1172" x2="322" y2="1164" stroke="#4f8c35" stroke-width="0.8" stroke-linecap="round" opacity="0.55"/><line x1="348" y1="1216" x2="358" y2="1202" stroke="#2c5a20" stroke-width="1.2" stroke-linecap="round" opacity="0.55"/><line x1="73" y1="1204" x2="79" y2="1198" stroke="#7cb856" stroke-width="1.7" stroke-linecap="round" opacity="0.55"/><line x1="131" y1="1188" x2="117" y2="1173" stroke="#a4d27c" stroke-width="1.2" stroke-linecap="round" opacity="0.55"/><line x1="100" y1="1336" x2="93" y2="1328" stroke="#7cb856" stroke-width="2.0" stroke-linecap="round" opacity="0.55"/><line x1="114" y1="1463" x2="110" y2="1447" stroke="#b0dc88" stroke-width="1.3" stroke-linecap="round" opacity="0.55"/><line x1="317" y1="1264" x2="308" y2="1252" stroke="#4f8c35" stroke-width="2.1" stroke-linecap="round" opacity="0.55"/><line x1="126" y1="1395" x2="130" y2="1390" stroke="#4f8c35" stroke-width="2.0" stroke-linecap="round" opacity="0.55"/><line x1="325" y1="1426" x2="317" y2="1409" stroke="#7cb856" stroke-width="2.0" stroke-linecap="round" opacity="0.55"/><line x1="87" y1="1362" x2="92" y2="1355" stroke="#3a7328" stroke-width="1.5" stroke-linecap="round" opacity="0.55"/><line x1="233" y1="1177" x2="235" y2="1164" stroke="#a4d27c" stroke-width="1.0" stroke-linecap="round" opacity="0.55"/><line x1="231" y1="1198" x2="225" y2="1187" stroke="#9ccf74" stroke-width="1.1" stroke-linecap="round" opacity="0.55"/><line x1="159" y1="1289" x2="154" y2="1279" stroke="#3a7328" stroke-width="0.9" stroke-linecap="round" opacity="0.55"/><line x1="145" y1="1389" x2="147" y2="1371" stroke="#a4d27c" stroke-width="1.0" stroke-linecap="round" opacity="0.55"/><line x1="386" y1="1316" x2="382" y2="1308" stroke="#2c5a20" stroke-width="1.1" stroke-linecap="round" opacity="0.55"/><line x1="98" y1="1229" x2="106" y2="1220" stroke="#b0dc88" stroke-width="0.9" stroke-linecap="round" opacity="0.55"/><line x1="222" y1="1246" x2="214" y2="1233" stroke="#2c5a20" stroke-width="0.9" stroke-linecap="round" opacity="0.55"/><line x1="306" y1="1299" x2="300" y2="1287" stroke="#3a7328" stroke-width="1.7" stroke-linecap="round" opacity="0.55"/><line x1="300" y1="1151" x2="305" y2="1135" stroke="#b0dc88" stroke-width="1.7" stroke-linecap="round" opacity="0.55"/><line x1="119" y1="1409" x2="130" y2="1398" stroke="#2c5a20" stroke-width="1.7" stroke-linecap="round" opacity="0.55"/><line x1="288" y1="1374" x2="279" y2="1366" stroke="#9ccf74" stroke-width="1.4" stroke-linecap="round" opacity="0.55"/><line x1="355" y1="1236" x2="368" y2="1224" stroke="#7cb856" stroke-width="1.8" stroke-linecap="round" opacity="0.55"/><line x1="265" y1="1455" x2="263" y2="1439" stroke="#3a7328" stroke-width="1.3" stroke-linecap="round" opacity="0.55"/><line x1="232" y1="1162" x2="228" y2="1145" stroke="#6aa848" stroke-width="1.7" stroke-linecap="round" opacity="0.55"/><line x1="141" y1="1444" x2="134" y2="1433" stroke="#7cb856" stroke-width="2.2" stroke-linecap="round" opacity="0.55"/><line x1="223" y1="1216" x2="231" y2="1209" stroke="#a4d27c" stroke-width="1.0" stroke-linecap="round" opacity="0.55"/><line x1="208" y1="1377" x2="210" y2="1361" stroke="#4f8c35" stroke-width="2.0" stroke-linecap="round" opacity="0.55"/><line x1="70" y1="1344" x2="65" y2="1332" stroke="#a4d27c" stroke-width="1.0" stroke-linecap="round" opacity="0.55"/><line x1="151" y1="1180" x2="157" y2="1175" stroke="#b0dc88" stroke-width="2.2" stroke-linecap="round" opacity="0.55"/><line x1="115" y1="1248" x2="119" y2="1240" stroke="#a4d27c" stroke-width="1.0" stroke-linecap="round" opacity="0.55"/><line x1="266" y1="1292" x2="263" y2="1273" stroke="#4f8c35" stroke-width="2.0" stroke-linecap="round" opacity="0.55"/><line x1="391" y1="1230" x2="399" y2="1222" stroke="#3a7328" stroke-width="1.4" stroke-linecap="round" opacity="0.55"/><line x1="345" y1="1464" x2="349" y2="1459" stroke="#b0dc88" stroke-width="2.0" stroke-linecap="round" opacity="0.55"/><path d="M100,1124.7 L231.6,1234.3 L246,1277 L243,1311.7 L171.5,1311.7 L60,1167 Z" fill="#1c1c28"/><path d="M96,1130 L231.6,1234.3 L236,1246 L92,1136 Z" fill="#3a3a4a" opacity="0.6"/><path d="M148.7,1171.6 L243.7,1274.6 L236.3,1281.4 L141.3,1178.4 Z" fill="#d8d8e4"/><path d="M112,1168 L179,1236.4" stroke="#727284" stroke-width="3" fill="none"/><path d="M140,1250 C180,1258 215,1264 240,1272 L243,1311.7 C225,1314 195,1310 175,1308 Z" fill="#0e0e14"/><ellipse cx="194.4" cy="1265.8" rx="3" ry="3.5" fill="#e8e8ee"/><ellipse cx="217.3" cy="1281.6" rx="2" ry="2" fill="#c8c8d0"/><path d="M231.6,1234.3 L303.3,1306 L323.3,1406.2 L289,1397.6 L224.5,1371.9 L195.8,1344.6 L171.5,1311.7 L178.6,1306 C195,1312 225,1314 243,1311.7 L246,1277 Z" fill="#272736"/><path d="M181.5,1307 C195,1312 225,1314 243,1311.7 L246,1277 C262,1290 276,1300 286,1308.8 L289,1354.7 C285,1360 280,1362 274.6,1363 L228.8,1363 C215,1352 208,1342 203,1334.6 Z" fill="#9896b4"/><ellipse cx="272" cy="1322" rx="9" ry="17" transform="rotate(-25 272 1322)" fill="#6c6a86" opacity="0.75"/><path d="M257.4,1334.6 L320.5,1404.8 M254,1338 L317,1406" fill="none" stroke="#1e1e2c" stroke-width="1.6"/><path d="M231.6,1234.3 L303.3,1306 L323.3,1406.2" fill="none" stroke="#e6e8e4" stroke-width="3"/></g><ellipse cx="236.2" cy="1307.3" rx="159.3" ry="160.3" fill="none" stroke="#2e5222" stroke-width="1.2" opacity="0.6"/><path d="M628.9,534.6 C634.9,532.9 650.1,526.7 664.6,524.5 C679.1,522.3 697.3,520.1 715.9,521.2 C734.5,522.3 752.6,525.1 776.0,531.2 C799.4,537.3 842.9,553.5 856.3,558.0 L864.0,540.0 L883.0,610.3 L800.6,595.9 L821.7,587.0 C817.8,583.6 809.6,574.0 798.3,566.9 C787.0,559.8 768.6,549.8 753.7,544.6 C738.9,539.4 724.1,537.6 709.2,535.7 C694.4,533.8 678.0,533.4 664.6,533.4 C651.2,533.4 634.9,535.3 628.9,535.7 Z" fill="#2fe6c7"/><path d="M629.4,985.1 C636.0,985.8 651.3,989.0 668.8,989.0 C686.3,989.0 714.8,988.8 734.5,985.1 C754.2,981.4 770.6,975.0 787.0,966.7 C803.4,958.4 825.3,940.5 833.0,935.2 L812.0,927.3 L894.8,911.5 L875.0,982.5 L868.5,966.7 C857.1,971.5 822.3,989.7 800.0,995.6 C777.7,1001.5 756.4,1002.0 734.5,1002.2 C712.6,1002.4 686.3,999.6 668.8,996.9 C651.3,994.2 636.0,987.8 629.4,986.0 Z" fill="#2fe6c7"/><path d="M624.0,1452.0 C616.5,1452.6 594.3,1455.3 578.8,1455.5 C563.3,1455.7 546.9,1455.2 531.0,1453.0 C515.1,1450.8 497.2,1446.8 483.3,1442.4 C469.4,1438.1 458.6,1432.9 447.5,1426.9 C436.4,1420.9 421.6,1410.0 416.4,1406.6 L435.5,1395.8 L353.1,1380.3 L371.0,1452.0 L380.6,1435.2 C385.8,1438.2 398.6,1448.0 411.7,1453.2 C424.8,1458.4 441.5,1463.3 459.4,1466.3 C477.3,1469.3 499.1,1471.2 519.0,1471.0 C538.9,1470.8 561.3,1468.0 578.8,1465.0 C596.3,1462.0 616.5,1455.0 624.0,1453.0 Z" fill="#2fe6c7"/><clipPath id="cyA"><path d="M922.8,522.8 C945,512 983,512 1005.6,522.8 L1005.6,676 C985,689 945,689 922.8,676 Z"/></clipPath><clipPath id="cyB"><path d="M935.2,705.2 C955,700 985,700 1001.5,705.2 L1001.5,793 L1008.7,800 L1008.7,921.6 C985,930 950,930 925.9,921.6 L925.9,800 L935.2,793 Z"/></clipPath><g filter="url(#blur1)"><path d="M922.8,522.8 C945,512 983,512 1005.6,522.8 L1005.6,676 C985,689 945,689 922.8,676 Z" fill="url(#cyl)"/><path d="M935.2,705.2 C955,700 985,700 1001.5,705.2 L1001.5,793 L1008.7,800 L1008.7,921.6 C985,930 950,930 925.9,921.6 L925.9,800 L935.2,793 Z" fill="url(#cyl2)"/><g clip-path="url(#cyA)"><path d="M923,636.0 C945,628.0 975,626.0 1006,633.0 L1006,637.0 C975,631.0 945,633.0 923,640.0 Z" fill="#666" opacity="0.45"/><path d="M923,645.5 C945,637.5 975,635.5 1006,642.5 L1006,646.5 C975,640.5 945,642.5 923,649.5 Z" fill="#666" opacity="0.45"/><path d="M923,655.0 C945,647.0 975,645.0 1006,652.0 L1006,656.0 C975,650.0 945,652.0 923,659.0 Z" fill="#666" opacity="0.45"/><path d="M923,664.5 C945,656.5 975,654.5 1006,661.5 L1006,665.5 C975,659.5 945,661.5 923,668.5 Z" fill="#666" opacity="0.45"/><path d="M923,674.0 C945,666.0 975,664.0 1006,671.0 L1006,675.0 C975,669.0 945,671.0 923,678.0 Z" fill="#666" opacity="0.45"/><path d="M923,683.5 C945,675.5 975,673.5 1006,680.5 L1006,684.5 C975,678.5 945,680.5 923,687.5 Z" fill="#666" opacity="0.45"/></g><g clip-path="url(#cyB)"><path d="M935,717 C955,712 985,712 1002,716 L1002,719 C985,716 955,716 935,721 Z" fill="#666" opacity="0.4"/><path d="M935,727 C955,722 985,722 1002,726 L1002,729 C985,726 955,726 935,731 Z" fill="#666" opacity="0.4"/><path d="M935,737 C955,732 985,732 1002,736 L1002,739 C985,736 955,736 935,741 Z" fill="#666" opacity="0.4"/><path d="M935,747 C955,742 985,742 1002,746 L1002,749 C985,746 955,746 935,751 Z" fill="#666" opacity="0.4"/><path d="M935,757 C955,752 985,752 1002,756 L1002,759 C985,756 955,756 935,761 Z" fill="#666" opacity="0.4"/><path d="M935,767 C955,762 985,762 1002,766 L1002,769 C985,766 955,766 935,771 Z" fill="#666" opacity="0.4"/><path d="M935,777 C955,772 985,772 1002,776 L1002,779 C985,776 955,776 935,781 Z" fill="#666" opacity="0.4"/><path d="M935,787 C955,782 985,782 1002,786 L1002,789 C985,786 955,786 935,791 Z" fill="#666" opacity="0.4"/></g></g><g opacity="0.72" fill="rgb(40,225,195)"><path d="M958.0,610.8 C952.1,612.3 933.8,616.0 922.8,620.0 C911.8,624.0 901.5,628.4 891.8,634.6 C882.1,640.8 871.2,650.4 864.8,657.3 C858.4,664.2 854.9,669.4 853.5,676.0 C852.1,682.6 852.6,689.5 856.6,696.7 C860.6,704.0 869.7,714.0 877.3,719.5 C884.9,725.0 893.7,727.4 902.0,729.8 C910.3,732.2 922.8,733.3 927.0,734.0 L941.4,712.0 C935.9,712.2 917.6,715.5 908.3,713.3 C899.0,711.1 889.8,703.3 885.5,698.8 C881.2,694.3 881.7,691.1 882.4,686.3 C883.1,681.5 884.7,675.3 889.7,669.8 C894.7,664.3 904.2,657.3 912.5,653.2 C920.8,649.1 930.4,646.7 939.4,645.0 C948.4,643.3 961.8,643.2 966.3,642.9 L974.6,667.7 L1009.8,617.0 L952.8,585.9 Z"/><path d="M1005.6,655.5 C1009.0,655.9 1017.7,655.4 1026.3,657.6 C1034.9,659.9 1048.8,664.0 1057.4,669.0 C1066.0,674.0 1073.7,680.4 1078.0,687.6 C1082.3,694.9 1084.3,703.9 1083.3,712.5 C1082.3,721.1 1078.0,731.8 1071.9,739.4 C1065.9,747.0 1056.3,752.5 1047.0,758.0 C1037.7,763.5 1027.0,768.7 1016.0,772.5 C1005.0,776.3 986.7,779.4 980.8,780.8 L985.0,805.6 L927.0,772.5 L963.2,721.8 L971.5,751.8 C978.9,750.4 1003.4,748.3 1016.0,743.5 C1028.6,738.7 1040.6,729.7 1047.0,722.8 C1053.4,715.9 1054.3,707.5 1054.3,702.0 C1054.3,696.5 1051.7,693.5 1047.0,689.7 C1042.3,685.9 1034.6,681.4 1026.3,679.3 C1018.0,677.2 1002.1,677.6 997.3,677.3 Z"/></g></svg></body></html>
